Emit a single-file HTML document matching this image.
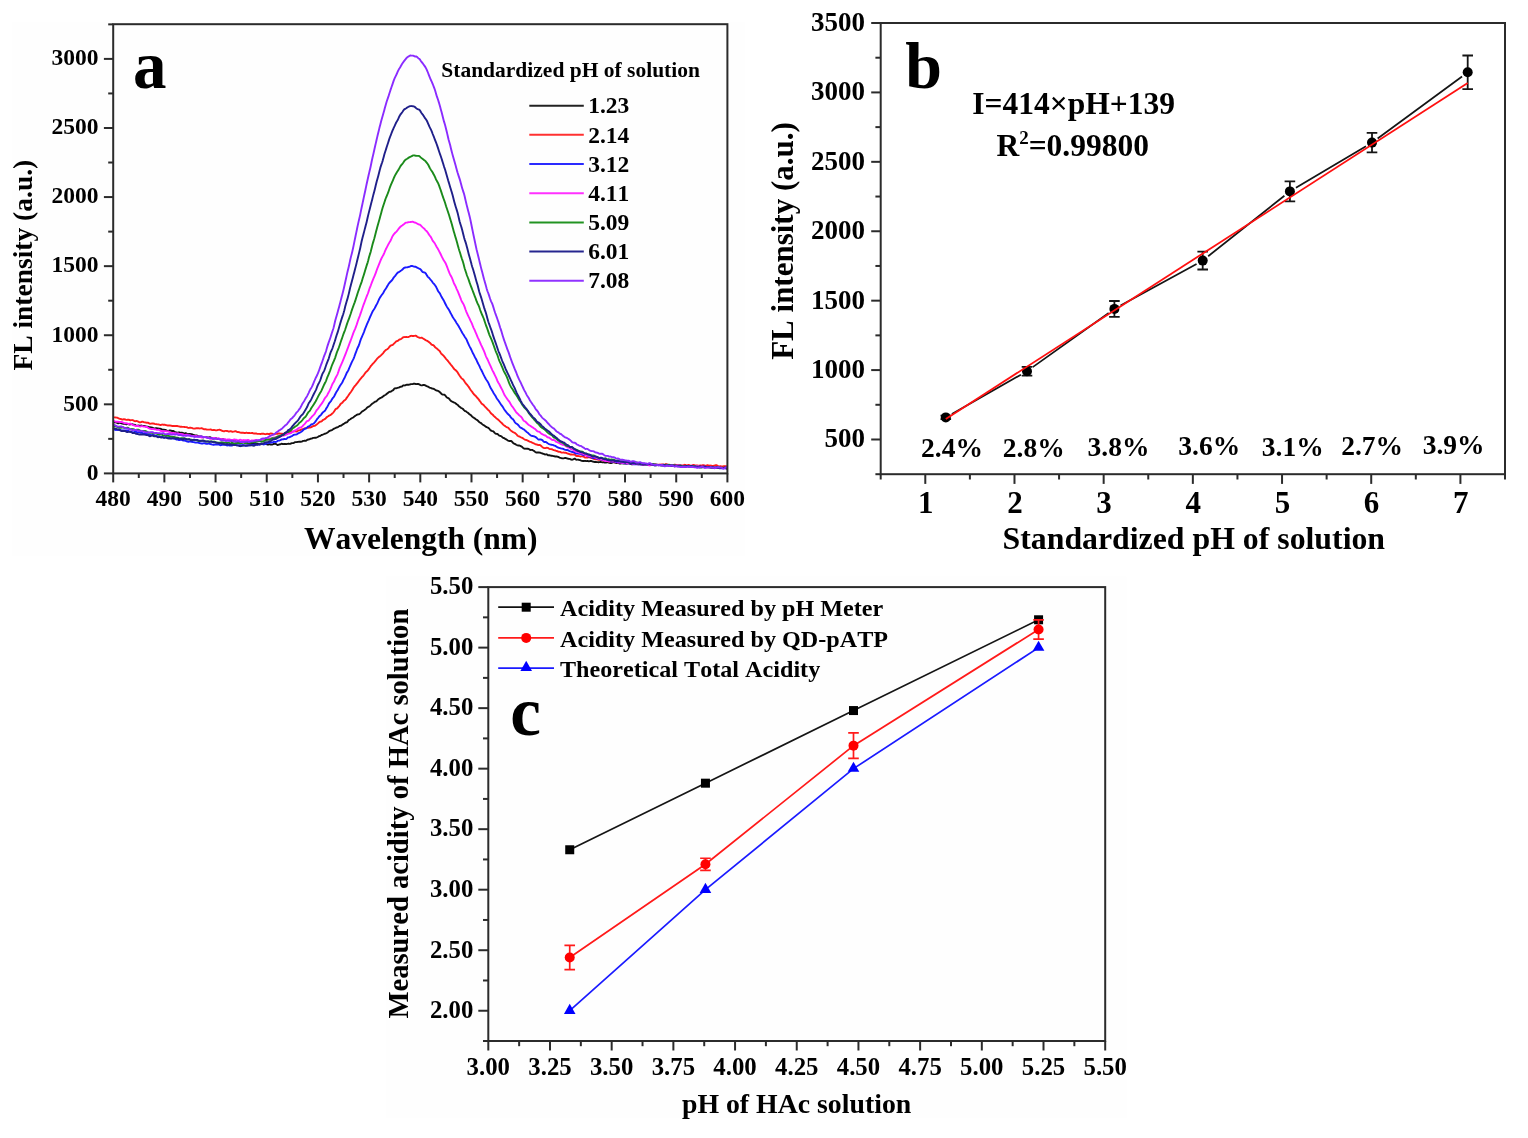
<!DOCTYPE html>
<html><head><meta charset="utf-8"><title>Figure</title>
<style>
html,body{margin:0;padding:0;background:#fff;width:1528px;height:1138px;overflow:hidden;}
svg{display:block;font-kerning:none;}
</style></head><body>
<svg width="1528" height="1138" viewBox="0 0 1528 1138">
<rect x="0" y="0" width="1528" height="1138" fill="#ffffff"/>
<rect x="12" y="22" width="733" height="533.5" fill="#fefefe"/>
<rect x="386" y="576.5" width="740.8" height="541.9" fill="#fefefe"/>
<g fill="none" stroke-width="1.9" stroke-linejoin="round">
<path d="M113.2,422.62 113.7,422.49 114.2,422.38 114.7,422.33 115.2,422.31 115.7,422.28 116.2,422.35 116.7,422.61 117.2,423.01 117.7,423.29 118.2,423.3 118.7,423.11 119.2,422.9 119.7,422.81 120.2,422.86 120.7,423.03 121.2,423.25 121.7,423.44 122.2,423.57 122.7,423.69 123.2,423.81 123.7,423.89 124.2,423.89 124.7,423.87 125.2,423.95 125.7,424.11 126.2,424.22 126.7,424.21 127.2,424.14 127.7,424.11 128.2,424.13 128.7,424.24 129.2,424.4 129.7,424.47 130.2,424.41 130.7,424.26 131.2,424.15 131.7,424.14 132.2,424.2 132.7,424.34 133.2,424.54 133.7,424.69 134.2,424.75 134.7,424.82 135.2,425.01 135.7,425.29 136.2,425.54 136.7,425.68 137.2,425.7 137.7,425.64 138.2,425.57 138.7,425.57 139.2,425.65 139.7,425.7 140.2,425.67 140.7,425.59 141.2,425.55 141.7,425.62 142.2,425.76 142.7,425.88 143.2,425.93 143.7,425.97 144.2,426.03 144.7,426.07 145.2,426.14 145.7,426.32 146.2,426.52 146.7,426.6 147.2,426.6 147.7,426.68 148.2,426.87 148.7,427.08 149.2,427.2 149.7,427.24 150.2,427.29 150.7,427.41 151.2,427.53 151.7,427.57 152.2,427.6 152.7,427.76 153.2,428.06 153.7,428.35 154.2,428.48 154.7,428.46 155.2,428.31 155.7,428.16 156.2,428.12 156.7,428.2 157.2,428.29 157.7,428.34 158.2,428.42 158.7,428.57 159.2,428.69 159.7,428.71 160.2,428.68 160.7,428.8 161.2,429.1 161.7,429.44 162.2,429.63 162.7,429.66 163.2,429.65 163.7,429.69 164.2,429.76 164.7,429.83 165.2,429.89 165.7,430.01 166.2,430.21 166.7,430.52 167.2,430.87 167.7,431.12 168.2,431.12 168.7,430.86 169.2,430.56 169.7,430.42 170.2,430.45 170.7,430.58 171.2,430.76 171.7,430.95 172.2,431.02 172.7,430.98 173.2,430.98 173.7,431.17 174.2,431.53 174.7,431.89 175.2,432.13 175.7,432.24 176.2,432.32 176.7,432.46 177.2,432.6 177.7,432.63 178.2,432.51 178.7,432.37 179.2,432.35 179.7,432.51 180.2,432.72 180.7,432.82 181.2,432.81 181.7,432.78 182.2,432.79 182.7,432.88 183.2,433.1 183.7,433.38 184.2,433.54 184.7,433.46 185.2,433.26 185.7,433.17 186.2,433.33 186.7,433.63 187.2,433.9 187.7,434.04 188.2,434.08 188.7,434.03 189.2,433.96 189.7,433.92 190.2,433.97 190.7,434.06 191.2,434.15 191.7,434.24 192.2,434.4 192.7,434.61 193.2,434.81 193.7,434.99 194.2,435.18 194.7,435.38 195.2,435.49 195.7,435.47 196.2,435.4 196.7,435.43 197.2,435.58 197.7,435.83 198.2,436.09 198.7,436.3 199.2,436.41 199.7,436.45 200.2,436.43 200.7,436.4 201.2,436.43 201.7,436.57 202.2,436.84 202.7,437.13 203.2,437.3 203.7,437.28 204.2,437.13 204.7,437 205.2,436.99 205.7,437.05 206.2,437.14 206.7,437.27 207.2,437.43 207.7,437.54 208.2,437.54 208.7,437.46 209.2,437.33 209.7,437.23 210.2,437.27 210.7,437.48 211.2,437.8 211.7,438.12 212.2,438.37 212.7,438.54 213.2,438.61 213.7,438.54 214.2,438.38 214.7,438.23 215.2,438.18 215.7,438.24 216.2,438.42 216.7,438.65 217.2,438.87 217.7,438.98 218.2,438.98 218.7,438.95 219.2,438.96 219.7,439.02 220.2,439.11 220.7,439.18 221.2,439.22 221.7,439.2 222.2,439.14 222.7,439.09 223.2,439.13 223.7,439.31 224.2,439.61 224.7,439.87 225.2,439.95 225.7,439.91 226.2,439.89 226.7,439.93 227.2,440 227.7,440.03 228.2,440.02 228.7,440.04 229.2,440.16 229.7,440.32 230.2,440.48 230.7,440.61 231.2,440.73 231.7,440.77 232.2,440.76 232.7,440.8 233.2,440.96 233.7,441.19 234.2,441.33 234.7,441.32 235.2,441.27 235.7,441.36 236.2,441.61 236.7,441.84 237.2,441.94 237.7,441.98 238.2,442.06 238.7,442.19 239.2,442.29 239.7,442.3 240.2,442.27 240.7,442.25 241.2,442.27 241.7,442.32 242.2,442.38 242.7,442.36 243.2,442.28 243.7,442.26 244.2,442.41 244.7,442.69 245.2,442.98 245.7,443.17 246.2,443.24 246.7,443.24 247.2,443.22 247.7,443.23 248.2,443.26 248.7,443.33 249.2,443.41 249.7,443.47 250.2,443.48 250.7,443.53 251.2,443.62 251.7,443.67 252.2,443.62 252.7,443.53 253.2,443.48 253.7,443.46 254.2,443.49 254.7,443.61 255.2,443.77 255.7,443.9 256.2,443.95 256.7,443.9 257.2,443.76 257.7,443.63 258.2,443.64 258.7,443.82 259.2,444.06 259.7,444.26 260.2,444.35 260.7,444.32 261.2,444.16 261.7,443.91 262.2,443.71 262.7,443.65 263.2,443.68 263.7,443.71 264.2,443.74 264.7,443.78 265.2,443.79 265.7,443.84 266.2,444.01 266.7,444.27 267.2,444.52 267.7,444.66 268.2,444.63 268.7,444.41 269.2,444.19 269.7,444.15 270.2,444.31 270.7,444.51 271.2,444.6 271.7,444.57 272.2,444.47 272.7,444.34 273.2,444.18 273.7,443.99 274.2,443.83 274.7,443.75 275.2,443.79 275.7,443.92 276.2,444.17 276.7,444.5 277.2,444.82 277.7,444.98 278.2,444.91 278.7,444.72 279.2,444.54 279.7,444.41 280.2,444.26 280.7,444.05 281.2,443.82 281.7,443.72 282.2,443.83 282.7,444.01 283.2,444.08 283.7,444.03 284.2,443.97 284.7,443.97 285.2,444.01 285.7,444.07 286.2,444.09 286.7,444.03 287.2,443.92 287.7,443.82 288.2,443.76 288.7,443.75 289.2,443.82 289.7,443.88 290.2,443.8 290.7,443.56 291.2,443.32 291.7,443.19 292.2,443.15 292.7,443.13 293.2,443.08 293.7,442.91 294.2,442.61 294.7,442.28 295.2,442.1 295.7,442.11 296.2,442.17 296.7,442.1 297.2,441.96 297.7,441.87 298.2,441.85 298.7,441.82 299.2,441.79 299.7,441.78 300.2,441.78 300.7,441.75 301.2,441.69 301.7,441.59 302.2,441.39 302.7,441.13 303.2,440.92 303.7,440.83 304.2,440.81 304.7,440.82 305.2,440.82 305.7,440.77 306.2,440.6 306.7,440.26 307.2,439.87 307.7,439.6 308.2,439.52 308.7,439.51 309.2,439.41 309.7,439.19 310.2,438.92 310.7,438.71 311.2,438.61 311.7,438.51 312.2,438.3 312.7,438.03 313.2,437.86 313.7,437.84 314.2,437.85 314.7,437.79 315.2,437.72 315.7,437.69 316.2,437.63 316.7,437.49 317.2,437.26 317.7,436.99 318.2,436.69 318.7,436.4 319.2,436.18 319.7,436.03 320.2,435.83 320.7,435.53 321.2,435.21 321.7,434.99 322.2,434.82 322.7,434.66 323.2,434.47 323.7,434.25 324.2,433.98 324.7,433.73 325.2,433.57 325.7,433.46 326.2,433.28 326.7,433 327.2,432.67 327.7,432.34 328.2,431.95 328.7,431.51 329.2,431.12 329.7,430.84 330.2,430.64 330.7,430.5 331.2,430.36 331.7,430.15 332.2,429.86 332.7,429.52 333.2,429.17 333.7,428.82 334.2,428.52 334.7,428.31 335.2,428.14 335.7,427.93 336.2,427.7 336.7,427.51 337.2,427.34 337.7,427.15 338.2,426.91 338.7,426.58 339.2,426.22 339.7,425.93 340.2,425.79 340.7,425.72 341.2,425.57 341.7,425.26 342.2,424.85 342.7,424.45 343.2,424.12 343.7,423.82 344.2,423.51 344.7,423.15 345.2,422.79 345.7,422.55 346.2,422.47 346.7,422.37 347.2,422.05 347.7,421.44 348.2,420.74 348.7,420.18 349.2,419.82 349.7,419.55 350.2,419.25 350.7,418.91 351.2,418.55 351.7,418.24 352.2,417.98 352.7,417.75 353.2,417.48 353.7,417.08 354.2,416.61 354.7,416.19 355.2,415.86 355.7,415.54 356.2,415.19 356.7,414.89 357.2,414.67 357.7,414.52 358.2,414.4 358.7,414.26 359.2,414.06 359.7,413.77 360.2,413.38 360.7,412.94 361.2,412.44 361.7,411.9 362.2,411.41 362.7,411.06 363.2,410.8 363.7,410.52 364.2,410.17 364.7,409.81 365.2,409.46 365.7,409.06 366.2,408.58 366.7,408.06 367.2,407.59 367.7,407.2 368.2,406.88 368.7,406.63 369.2,406.38 369.7,406.04 370.2,405.58 370.7,405.08 371.2,404.6 371.7,404.13 372.2,403.68 372.7,403.31 373.2,403.03 373.7,402.73 374.2,402.35 374.7,401.97 375.2,401.69 375.7,401.51 376.2,401.29 376.7,400.93 377.2,400.45 377.7,399.92 378.2,399.43 378.7,399.04 379.2,398.71 379.7,398.41 380.2,398.12 380.7,397.89 381.2,397.72 381.7,397.48 382.2,397.12 382.7,396.7 383.2,396.28 383.7,395.89 384.2,395.55 384.7,395.28 385.2,395.01 385.7,394.68 386.2,394.28 386.7,393.88 387.2,393.51 387.7,393.13 388.2,392.7 388.7,392.29 389.2,391.97 389.7,391.8 390.2,391.72 390.7,391.59 391.2,391.33 391.7,391.01 392.2,390.7 392.7,390.45 393.2,390.11 393.7,389.52 394.2,388.82 394.7,388.37 395.2,388.28 395.7,388.36 396.2,388.34 396.7,388.19 397.2,387.98 397.7,387.8 398.2,387.67 398.7,387.55 399.2,387.35 399.7,387.09 400.2,386.85 400.7,386.71 401.2,386.68 401.7,386.61 402.2,386.33 402.7,385.84 403.2,385.44 403.7,385.32 404.2,385.41 404.7,385.44 405.2,385.29 405.7,385.04 406.2,384.84 406.7,384.75 407.2,384.71 407.7,384.69 408.2,384.69 408.7,384.7 409.2,384.66 409.7,384.55 410.2,384.36 410.7,384.18 411.2,384.11 411.7,384.13 412.2,384.16 412.7,384.09 413.2,383.92 413.7,383.75 414.2,383.7 414.7,383.79 415.2,383.92 415.7,384.04 416.2,384.09 416.7,384.06 417.2,383.97 417.7,383.94 418.2,384.01 418.7,384.16 419.2,384.38 419.7,384.67 420.2,384.95 420.7,385.17 421.2,385.34 421.7,385.41 422.2,385.33 422.7,385.16 423.2,385.03 423.7,384.98 424.2,384.99 424.7,385.1 425.2,385.34 425.7,385.63 426.2,385.92 426.7,386.16 427.2,386.34 427.7,386.51 428.2,386.73 428.7,387.05 429.2,387.37 429.7,387.62 430.2,387.8 430.7,387.96 431.2,388.12 431.7,388.31 432.2,388.5 432.7,388.66 433.2,388.79 433.7,388.92 434.2,389.11 434.7,389.43 435.2,389.81 435.7,390.14 436.2,390.35 436.7,390.51 437.2,390.63 437.7,390.77 438.2,390.98 438.7,391.29 439.2,391.64 439.7,392.04 440.2,392.48 440.7,392.98 441.2,393.53 441.7,394.06 442.2,394.44 442.7,394.62 443.2,394.63 443.7,394.62 444.2,394.7 444.7,394.94 445.2,395.37 445.7,396.01 446.2,396.72 446.7,397.27 447.2,397.59 447.7,397.79 448.2,398.03 448.7,398.39 449.2,398.89 449.7,399.48 450.2,400.11 450.7,400.69 451.2,401.11 451.7,401.35 452.2,401.53 452.7,401.79 453.2,402.13 453.7,402.41 454.2,402.56 454.7,402.71 455.2,402.99 455.7,403.42 456.2,403.86 456.7,404.21 457.2,404.52 457.7,404.93 458.2,405.48 458.7,406.04 459.2,406.47 459.7,406.82 460.2,407.2 460.7,407.62 461.2,407.98 461.7,408.25 462.2,408.48 462.7,408.77 463.2,409.22 463.7,409.81 464.2,410.38 464.7,410.8 465.2,411.03 465.7,411.24 466.2,411.56 466.7,411.95 467.2,412.29 467.7,412.6 468.2,413.03 468.7,413.55 469.2,414.04 469.7,414.41 470.2,414.72 470.7,415.05 471.2,415.48 471.7,416.04 472.2,416.63 472.7,417.06 473.2,417.37 473.7,417.67 474.2,418.02 474.7,418.38 475.2,418.74 475.7,419.1 476.2,419.44 476.7,419.76 477.2,420.08 477.7,420.46 478.2,420.95 478.7,421.48 479.2,421.97 479.7,422.35 480.2,422.62 480.7,422.87 481.2,423.22 481.7,423.67 482.2,424.13 482.7,424.53 483.2,424.86 483.7,425.16 484.2,425.48 484.7,425.84 485.2,426.23 485.7,426.63 486.2,426.96 486.7,427.16 487.2,427.31 487.7,427.49 488.2,427.77 488.7,428.17 489.2,428.67 489.7,429.26 490.2,429.87 490.7,430.38 491.2,430.74 491.7,430.95 492.2,431.07 492.7,431.17 493.2,431.35 493.7,431.74 494.2,432.31 494.7,432.88 495.2,433.3 495.7,433.58 496.2,433.77 496.7,433.87 497.2,433.96 497.7,434.17 498.2,434.58 498.7,435.1 499.2,435.53 499.7,435.74 500.2,435.84 500.7,435.98 501.2,436.24 501.7,436.61 502.2,437.09 502.7,437.55 503.2,437.85 503.7,438 504.2,438.14 504.7,438.44 505.2,438.85 505.7,439.19 506.2,439.43 506.7,439.7 507.2,440.02 507.7,440.33 508.2,440.57 508.7,440.78 509.2,440.96 509.7,441.06 510.2,441.01 510.7,440.94 511.2,441.02 511.7,441.38 512.2,441.94 512.7,442.53 513.2,443.02 513.7,443.35 514.2,443.6 514.7,443.87 515.2,444.15 515.7,444.43 516.2,444.73 516.7,445.01 517.2,445.24 517.7,445.4 518.2,445.47 518.7,445.49 519.2,445.51 519.7,445.61 520.2,445.8 520.7,446.06 521.2,446.33 521.7,446.64 522.2,447.05 522.7,447.53 523.2,447.97 523.7,448.29 524.2,448.52 524.7,448.68 525.2,448.72 525.7,448.67 526.2,448.66 526.7,448.72 527.2,448.76 527.7,448.75 528.2,448.78 528.7,448.95 529.2,449.26 529.7,449.65 530.2,449.93 530.7,449.99 531.2,449.9 531.7,449.84 532.2,449.95 532.7,450.2 533.2,450.51 533.7,450.81 534.2,451.11 534.7,451.47 535.2,451.89 535.7,452.26 536.2,452.46 536.7,452.49 537.2,452.45 537.7,452.42 538.2,452.44 538.7,452.5 539.2,452.56 539.7,452.63 540.2,452.76 540.7,452.94 541.2,453.09 541.7,453.21 542.2,453.37 542.7,453.56 543.2,453.75 543.7,453.91 544.2,454.12 544.7,454.35 545.2,454.48 545.7,454.42 546.2,454.3 546.7,454.37 547.2,454.68 547.7,455.05 548.2,455.27 548.7,455.3 549.2,455.27 549.7,455.32 550.2,455.48 550.7,455.63 551.2,455.69 551.7,455.71 552.2,455.79 552.7,455.93 553.2,456.04 553.7,456.11 554.2,456.21 554.7,456.38 555.2,456.52 555.7,456.54 556.2,456.48 556.7,456.48 557.2,456.58 557.7,456.71 558.2,456.83 558.7,457.04 559.2,457.34 559.7,457.61 560.2,457.8 560.7,457.95 561.2,458.08 561.7,458.2 562.2,458.3 562.7,458.38 563.2,458.4 563.7,458.33 564.2,458.19 564.7,458.04 565.2,457.94 565.7,457.96 566.2,458.1 566.7,458.29 567.2,458.47 567.7,458.65 568.2,458.77 568.7,458.81 569.2,458.83 569.7,458.93 570.2,459.09 570.7,459.29 571.2,459.53 571.7,459.7 572.2,459.68 572.7,459.51 573.2,459.28 573.7,459.03 574.2,458.79 574.7,458.73 575.2,458.96 575.7,459.35 576.2,459.66 576.7,459.74 577.2,459.67 577.7,459.63 578.2,459.68 578.7,459.77 579.2,459.89 579.7,460.04 580.2,460.23 580.7,460.44 581.2,460.66 581.7,460.83 582.2,460.92 582.7,460.97 583.2,461.03 583.7,461.05 584.2,460.98 584.7,460.9 585.2,460.89 585.7,460.96 586.2,461.05 586.7,461.09 587.2,461.06 587.7,461.04 588.2,461.09 588.7,461.2 589.2,461.23 589.7,461.17 590.2,461.06 590.7,460.98 591.2,460.99 591.7,461.14 592.2,461.33 592.7,461.46 593.2,461.56 593.7,461.73 594.2,461.93 594.7,462.04 595.2,462.01 595.7,461.97 596.2,462.02 596.7,462.12 597.2,462.17 597.7,462.17 598.2,462.19 598.7,462.2 599.2,462.15 599.7,462.06 600.2,461.98 600.7,462 601.2,462.07 601.7,462.18 602.2,462.29 602.7,462.35 603.2,462.32 603.7,462.27 604.2,462.34 604.7,462.51 605.2,462.64 605.7,462.62 606.2,462.47 606.7,462.31 607.2,462.26 607.7,462.32 608.2,462.44 608.7,462.57 609.2,462.74 609.7,462.9 610.2,462.99 610.7,463.04 611.2,463.02 611.7,462.86 612.2,462.57 612.7,462.34 613.2,462.32 613.7,462.4 614.2,462.42 614.7,462.43 615.2,462.56 615.7,462.79 616.2,462.94 616.7,462.95 617.2,462.9 617.7,462.88 618.2,462.93 618.7,463.08 619.2,463.3 619.7,463.49 620.2,463.54 620.7,463.46 621.2,463.34 621.7,463.23 622.2,463.19 622.7,463.25 623.2,463.37 623.7,463.47 624.2,463.51 624.7,463.53 625.2,463.55 625.7,463.61 626.2,463.65 626.7,463.59 627.2,463.42 627.7,463.22 628.2,463.12 628.7,463.22 629.2,463.46 629.7,463.68 630.2,463.82 630.7,463.93 631.2,464.09 631.7,464.26 632.2,464.33 632.7,464.26 633.2,464.14 633.7,464.05 634.2,464.02 634.7,464.02 635.2,463.94 635.7,463.76 636.2,463.53 636.7,463.41 637.2,463.55 637.7,463.88 638.2,464.16 638.7,464.22 639.2,464.1 639.7,464.04 640.2,464.1 640.7,464.2 641.2,464.32 641.7,464.48 642.2,464.65 642.7,464.76 643.2,464.77 643.7,464.66 644.2,464.48 644.7,464.32 645.2,464.25 645.7,464.25 646.2,464.26 646.7,464.27 647.2,464.4 647.7,464.69 648.2,464.97 648.7,465.02 649.2,464.82 649.7,464.52 650.2,464.31 650.7,464.23 651.2,464.21 651.7,464.26 652.2,464.38 652.7,464.54 653.2,464.71 653.7,464.9 654.2,465.1 654.7,465.25 655.2,465.33 655.7,465.34 656.2,465.27 656.7,465.19 657.2,465.13 657.7,465.07 658.2,465 658.7,464.97 659.2,465.01 659.7,465.11 660.2,465.24 660.7,465.34 661.2,465.39 661.7,465.39 662.2,465.32 662.7,465.17 663.2,465.02 663.7,465 664.2,465.03 664.7,464.95 665.2,464.8 665.7,464.76 666.2,464.88 666.7,465.08 667.2,465.26 667.7,465.38 668.2,465.44 668.7,465.53 669.2,465.69 669.7,465.84 670.2,465.92 670.7,465.96 671.2,465.93 671.7,465.77 672.2,465.55 672.7,465.44 673.2,465.54 673.7,465.82 674.2,466.1 674.7,466.23 675.2,466.18 675.7,465.99 676.2,465.76 676.7,465.65 677.2,465.66 677.7,465.67 678.2,465.57 678.7,465.42 679.2,465.34 679.7,465.36 680.2,465.47 680.7,465.63 681.2,465.81 681.7,465.98 682.2,466.06 682.7,465.98 683.2,465.86 683.7,465.92 684.2,466.2 684.7,466.52 685.2,466.64 685.7,466.56 686.2,466.35 686.7,466.13 687.2,466.01 687.7,466.04 688.2,466.17 688.7,466.3 689.2,466.32 689.7,466.27 690.2,466.24 690.7,466.19 691.2,466.08 691.7,465.97 692.2,466.03 692.7,466.28 693.2,466.57 693.7,466.72 694.2,466.73 694.7,466.68 695.2,466.62 695.7,466.54 696.2,466.5 696.7,466.57 697.2,466.74 697.7,466.92 698.2,467.04 698.7,467.08 699.2,467.01 699.7,466.87 700.2,466.8 700.7,466.86 701.2,466.94 701.7,466.96 702.2,466.95 702.7,466.95 703.2,466.96 703.7,466.94 704.2,466.86 704.7,466.77 705.2,466.76 705.7,466.85 706.2,466.98 706.7,467.07 707.2,467.07 707.7,467.01 708.2,466.89 708.7,466.74 709.2,466.62 709.7,466.63 710.2,466.79 710.7,467.06 711.2,467.38 711.7,467.69 712.2,467.93 712.7,468.06 713.2,468.09 713.7,468.06 714.2,468.03 714.7,467.95 715.2,467.88 715.7,467.87 716.2,467.93 716.7,468 717.2,468.02 717.7,467.98 718.2,467.91 718.7,467.82 719.2,467.75 719.7,467.7 720.2,467.67 720.7,467.73 721.2,467.89 721.7,468.07 722.2,468.12 722.7,468.04 723.2,467.88 723.7,467.74 724.2,467.7 724.7,467.78 725.2,467.92 725.7,468.01 726.2,467.99 726.7,467.87 727.2,467.77" stroke="#111111"/>
<path d="M113.2,417.2 113.7,417.35 114.2,417.42 114.7,417.39 115.2,417.38 115.7,417.45 116.2,417.53 116.7,417.58 117.2,417.67 117.7,417.86 118.2,418.12 118.7,418.36 119.2,418.58 119.7,418.75 120.2,418.86 120.7,418.96 121.2,419.14 121.7,419.38 122.2,419.54 122.7,419.49 123.2,419.31 123.7,419.16 124.2,419.16 124.7,419.3 125.2,419.5 125.7,419.7 126.2,419.83 126.7,419.87 127.2,419.81 127.7,419.7 128.2,419.64 128.7,419.73 129.2,419.94 129.7,420.15 130.2,420.25 130.7,420.26 131.2,420.18 131.7,420.09 132.2,420.07 132.7,420.19 133.2,420.41 133.7,420.66 134.2,420.91 134.7,421.13 135.2,421.2 135.7,421.13 136.2,421.05 136.7,421.07 137.2,421.19 137.7,421.39 138.2,421.6 138.7,421.83 139.2,422.07 139.7,422.28 140.2,422.35 140.7,422.22 141.2,422 141.7,421.81 142.2,421.73 142.7,421.78 143.2,421.93 143.7,422.11 144.2,422.25 144.7,422.34 145.2,422.4 145.7,422.5 146.2,422.67 146.7,422.78 147.2,422.74 147.7,422.67 148.2,422.79 148.7,423.11 149.2,423.46 149.7,423.68 150.2,423.73 150.7,423.67 151.2,423.58 151.7,423.51 152.2,423.45 152.7,423.43 153.2,423.47 153.7,423.58 154.2,423.74 154.7,423.93 155.2,424.08 155.7,424.13 156.2,424.16 156.7,424.26 157.2,424.36 157.7,424.4 158.2,424.42 158.7,424.5 159.2,424.65 159.7,424.81 160.2,424.95 160.7,424.98 161.2,424.84 161.7,424.65 162.2,424.56 162.7,424.64 163.2,424.73 163.7,424.71 164.2,424.66 164.7,424.71 165.2,424.87 165.7,425.05 166.2,425.17 166.7,425.25 167.2,425.35 167.7,425.46 168.2,425.54 168.7,425.56 169.2,425.53 169.7,425.5 170.2,425.51 170.7,425.58 171.2,425.75 171.7,425.94 172.2,426.04 172.7,426.02 173.2,425.96 173.7,425.91 174.2,425.93 174.7,426.01 175.2,426.07 175.7,426.05 176.2,425.95 176.7,425.89 177.2,425.96 177.7,426.12 178.2,426.27 178.7,426.35 179.2,426.44 179.7,426.58 180.2,426.73 180.7,426.8 181.2,426.81 181.7,426.82 182.2,426.83 182.7,426.86 183.2,426.9 183.7,426.92 184.2,426.95 184.7,427 185.2,427.08 185.7,427.13 186.2,427.13 186.7,427.18 187.2,427.35 187.7,427.61 188.2,427.83 188.7,427.93 189.2,427.9 189.7,427.78 190.2,427.69 190.7,427.7 191.2,427.81 191.7,427.97 192.2,428.13 192.7,428.28 193.2,428.45 193.7,428.58 194.2,428.61 194.7,428.55 195.2,428.47 195.7,428.37 196.2,428.27 196.7,428.18 197.2,428.14 197.7,428.18 198.2,428.24 198.7,428.31 199.2,428.4 199.7,428.43 200.2,428.41 200.7,428.36 201.2,428.3 201.7,428.28 202.2,428.37 202.7,428.58 203.2,428.87 203.7,429.12 204.2,429.27 204.7,429.3 205.2,429.27 205.7,429.29 206.2,429.41 206.7,429.56 207.2,429.62 207.7,429.62 208.2,429.61 208.7,429.63 209.2,429.63 209.7,429.58 210.2,429.5 210.7,429.49 211.2,429.62 211.7,429.85 212.2,430.04 212.7,430.11 213.2,430.07 213.7,430.03 214.2,430.04 214.7,430.07 215.2,430.16 215.7,430.31 216.2,430.42 216.7,430.38 217.2,430.2 217.7,430.03 218.2,429.93 218.7,429.85 219.2,429.8 219.7,429.78 220.2,429.85 220.7,430.05 221.2,430.39 221.7,430.72 222.2,430.94 222.7,431.05 223.2,431.14 223.7,431.22 224.2,431.22 224.7,431.08 225.2,430.92 225.7,430.84 226.2,430.87 226.7,430.96 227.2,431.04 227.7,431.17 228.2,431.35 228.7,431.52 229.2,431.56 229.7,431.43 230.2,431.26 230.7,431.18 231.2,431.29 231.7,431.53 232.2,431.73 232.7,431.77 233.2,431.68 233.7,431.57 234.2,431.46 234.7,431.32 235.2,431.19 235.7,431.23 236.2,431.46 236.7,431.78 237.2,432 237.7,432.06 238.2,432.06 238.7,432.13 239.2,432.27 239.7,432.41 240.2,432.56 240.7,432.7 241.2,432.77 241.7,432.74 242.2,432.68 242.7,432.7 243.2,432.79 243.7,432.92 244.2,433.03 244.7,433.06 245.2,432.98 245.7,432.86 246.2,432.79 246.7,432.81 247.2,432.89 247.7,432.97 248.2,432.98 248.7,432.95 249.2,432.96 249.7,433.02 250.2,433.09 250.7,433.14 251.2,433.13 251.7,433.03 252.2,432.95 252.7,433.05 253.2,433.28 253.7,433.47 254.2,433.54 254.7,433.51 255.2,433.45 255.7,433.43 256.2,433.51 256.7,433.66 257.2,433.82 257.7,433.9 258.2,433.9 258.7,433.85 259.2,433.83 259.7,433.88 260.2,433.98 260.7,434.01 261.2,433.92 261.7,433.79 262.2,433.7 262.7,433.68 263.2,433.72 263.7,433.8 264.2,433.94 264.7,434.09 265.2,434.18 265.7,434.17 266.2,434.07 266.7,433.91 267.2,433.78 267.7,433.84 268.2,434.04 268.7,434.15 269.2,434.05 269.7,433.8 270.2,433.57 270.7,433.45 271.2,433.47 271.7,433.58 272.2,433.74 272.7,433.95 273.2,434.2 273.7,434.39 274.2,434.39 274.7,434.19 275.2,433.92 275.7,433.72 276.2,433.69 276.7,433.77 277.2,433.83 277.7,433.77 278.2,433.64 278.7,433.51 279.2,433.47 279.7,433.54 280.2,433.66 280.7,433.7 281.2,433.68 281.7,433.65 282.2,433.69 282.7,433.83 283.2,433.93 283.7,433.86 284.2,433.57 284.7,433.17 285.2,432.8 285.7,432.59 286.2,432.57 286.7,432.72 287.2,432.89 287.7,432.92 288.2,432.76 288.7,432.49 289.2,432.2 289.7,431.95 290.2,431.79 290.7,431.75 291.2,431.79 291.7,431.8 292.2,431.71 292.7,431.56 293.2,431.45 293.7,431.38 294.2,431.33 294.7,431.28 295.2,431.28 295.7,431.36 296.2,431.47 296.7,431.47 297.2,431.27 297.7,430.9 298.2,430.53 298.7,430.37 299.2,430.41 299.7,430.42 300.2,430.19 300.7,429.79 301.2,429.47 301.7,429.33 302.2,429.3 302.7,429.26 303.2,429.14 303.7,428.91 304.2,428.62 304.7,428.35 305.2,428.18 305.7,428.1 306.2,428.04 306.7,427.95 307.2,427.9 307.7,427.86 308.2,427.77 308.7,427.61 309.2,427.48 309.7,427.45 310.2,427.47 310.7,427.41 311.2,427.19 311.7,426.85 312.2,426.52 312.7,426.28 313.2,426.14 313.7,426.02 314.2,425.9 314.7,425.76 315.2,425.56 315.7,425.23 316.2,424.82 316.7,424.42 317.2,424.03 317.7,423.61 318.2,423.17 318.7,422.71 319.2,422.26 319.7,421.92 320.2,421.74 320.7,421.66 321.2,421.52 321.7,421.2 322.2,420.71 322.7,420.18 323.2,419.78 323.7,419.57 324.2,419.44 324.7,419.23 325.2,418.85 325.7,418.3 326.2,417.7 326.7,417.21 327.2,416.87 327.7,416.56 328.2,416.2 328.7,415.82 329.2,415.51 329.7,415.31 330.2,415.14 330.7,414.88 331.2,414.47 331.7,413.99 332.2,413.53 332.7,413.1 333.2,412.61 333.7,412.01 334.2,411.29 334.7,410.48 335.2,409.68 335.7,409.07 336.2,408.76 336.7,408.61 337.2,408.32 337.7,407.81 338.2,407.2 338.7,406.61 339.2,406.03 339.7,405.38 340.2,404.62 340.7,403.91 341.2,403.41 341.7,403.1 342.2,402.76 342.7,402.25 343.2,401.62 343.7,401.02 344.2,400.57 344.7,400.24 345.2,399.89 345.7,399.36 346.2,398.63 346.7,397.84 347.2,397.13 347.7,396.48 348.2,395.78 348.7,395.02 349.2,394.24 349.7,393.53 350.2,392.89 350.7,392.25 351.2,391.55 351.7,390.8 352.2,390.01 352.7,389.18 353.2,388.33 353.7,387.54 354.2,386.82 354.7,386.18 355.2,385.6 355.7,385.03 356.2,384.42 356.7,383.79 357.2,383.18 357.7,382.6 358.2,381.95 358.7,381.24 359.2,380.54 359.7,379.88 360.2,379.24 360.7,378.62 361.2,378.04 361.7,377.48 362.2,376.92 362.7,376.35 363.2,375.79 363.7,375.19 364.2,374.51 364.7,373.77 365.2,373.05 365.7,372.43 366.2,371.91 366.7,371.46 367.2,371.02 367.7,370.51 368.2,369.86 368.7,369.14 369.2,368.43 369.7,367.71 370.2,366.95 370.7,366.2 371.2,365.57 371.7,365.02 372.2,364.44 372.7,363.83 373.2,363.3 373.7,362.83 374.2,362.29 374.7,361.68 375.2,361.09 375.7,360.52 376.2,359.91 376.7,359.25 377.2,358.64 377.7,358.1 378.2,357.63 378.7,357.18 379.2,356.75 379.7,356.39 380.2,356.04 380.7,355.62 381.2,355.12 381.7,354.6 382.2,354.09 382.7,353.58 383.2,353.01 383.7,352.34 384.2,351.65 384.7,351.05 385.2,350.55 385.7,350.14 386.2,349.79 386.7,349.51 387.2,349.23 387.7,348.88 388.2,348.39 388.7,347.79 389.2,347.14 389.7,346.54 390.2,346.06 390.7,345.66 391.2,345.34 391.7,345.18 392.2,345.11 392.7,344.91 393.2,344.45 393.7,343.88 394.2,343.39 394.7,342.93 395.2,342.42 395.7,341.86 396.2,341.4 396.7,341.13 397.2,341.04 397.7,340.92 398.2,340.58 398.7,340.09 399.2,339.69 399.7,339.46 400.2,339.29 400.7,339.07 401.2,338.8 401.7,338.47 402.2,338.07 402.7,337.64 403.2,337.28 403.7,337.1 404.2,337.07 404.7,337.09 405.2,337.09 405.7,337.04 406.2,337 406.7,337.04 407.2,337.11 407.7,337.11 408.2,336.98 408.7,336.82 409.2,336.66 409.7,336.47 410.2,336.22 410.7,335.96 411.2,335.82 411.7,335.84 412.2,335.95 412.7,336.02 413.2,335.98 413.7,335.93 414.2,335.9 414.7,335.84 415.2,335.78 415.7,335.76 416.2,335.9 416.7,336.23 417.2,336.68 417.7,337.04 418.2,337.23 418.7,337.35 419.2,337.55 419.7,337.8 420.2,337.92 420.7,337.87 421.2,337.75 421.7,337.75 422.2,337.94 422.7,338.25 423.2,338.58 423.7,338.86 424.2,339.11 424.7,339.44 425.2,339.87 425.7,340.25 426.2,340.47 426.7,340.61 427.2,340.81 427.7,341.14 428.2,341.51 428.7,341.87 429.2,342.24 429.7,342.63 430.2,343.08 430.7,343.65 431.2,344.26 431.7,344.73 432.2,344.94 432.7,345.01 433.2,345.15 433.7,345.48 434.2,346.02 434.7,346.67 435.2,347.27 435.7,347.7 436.2,348.02 436.7,348.37 437.2,348.83 437.7,349.31 438.2,349.75 438.7,350.15 439.2,350.59 439.7,351.15 440.2,351.89 440.7,352.74 441.2,353.52 441.7,354.09 442.2,354.49 442.7,354.9 443.2,355.42 443.7,355.96 444.2,356.48 444.7,357.09 445.2,357.8 445.7,358.49 446.2,359.06 446.7,359.57 447.2,360.09 447.7,360.67 448.2,361.3 448.7,361.96 449.2,362.61 449.7,363.22 450.2,363.85 450.7,364.49 451.2,365.11 451.7,365.69 452.2,366.3 452.7,366.96 453.2,367.67 453.7,368.41 454.2,369.05 454.7,369.5 455.2,369.84 455.7,370.24 456.2,370.72 456.7,371.25 457.2,371.85 457.7,372.57 458.2,373.38 458.7,374.21 459.2,375 459.7,375.74 460.2,376.44 460.7,377.13 461.2,377.81 461.7,378.38 462.2,378.81 462.7,379.15 463.2,379.58 463.7,380.19 464.2,380.96 464.7,381.81 465.2,382.6 465.7,383.24 466.2,383.78 466.7,384.32 467.2,384.93 467.7,385.56 468.2,386.21 468.7,386.89 469.2,387.62 469.7,388.4 470.2,389.2 470.7,389.97 471.2,390.65 471.7,391.26 472.2,391.91 472.7,392.63 473.2,393.35 473.7,393.98 474.2,394.52 474.7,395.02 475.2,395.48 475.7,395.94 476.2,396.49 476.7,397.11 477.2,397.73 477.7,398.27 478.2,398.79 478.7,399.4 479.2,400.14 479.7,400.89 480.2,401.55 480.7,402.2 481.2,402.96 481.7,403.7 482.2,404.2 482.7,404.47 483.2,404.72 483.7,405.13 484.2,405.7 484.7,406.29 485.2,406.83 485.7,407.35 486.2,407.87 486.7,408.42 487.2,409.01 487.7,409.54 488.2,409.98 488.7,410.36 489.2,410.83 489.7,411.5 490.2,412.29 490.7,413.02 491.2,413.54 491.7,413.91 492.2,414.27 492.7,414.71 493.2,415.26 493.7,415.82 494.2,416.31 494.7,416.74 495.2,417.17 495.7,417.65 496.2,418.15 496.7,418.56 497.2,418.91 497.7,419.28 498.2,419.71 498.7,420.18 499.2,420.68 499.7,421.18 500.2,421.64 500.7,422.11 501.2,422.58 501.7,423.03 502.2,423.49 502.7,424.03 503.2,424.6 503.7,425.07 504.2,425.43 504.7,425.77 505.2,426.13 505.7,426.48 506.2,426.8 506.7,427.07 507.2,427.28 507.7,427.47 508.2,427.78 508.7,428.27 509.2,428.85 509.7,429.43 510.2,429.95 510.7,430.4 511.2,430.8 511.7,431.16 512.2,431.52 512.7,431.87 513.2,432.16 513.7,432.38 514.2,432.57 514.7,432.82 515.2,433.18 515.7,433.64 516.2,434.13 516.7,434.66 517.2,435.22 517.7,435.73 518.2,436.07 518.7,436.28 519.2,436.46 519.7,436.71 520.2,436.98 520.7,437.25 521.2,437.49 521.7,437.68 522.2,437.87 522.7,438.11 523.2,438.44 523.7,438.83 524.2,439.2 524.7,439.51 525.2,439.72 525.7,439.85 526.2,439.95 526.7,440.1 527.2,440.32 527.7,440.56 528.2,440.82 528.7,441.09 529.2,441.36 529.7,441.61 530.2,441.81 530.7,441.97 531.2,442.14 531.7,442.38 532.2,442.65 532.7,442.88 533.2,443.06 533.7,443.25 534.2,443.49 534.7,443.78 535.2,444.06 535.7,444.26 536.2,444.37 536.7,444.5 537.2,444.7 537.7,444.92 538.2,445.05 538.7,445.04 539.2,444.95 539.7,444.98 540.2,445.2 540.7,445.55 541.2,445.97 541.7,446.42 542.2,446.87 542.7,447.29 543.2,447.64 543.7,447.89 544.2,448.05 544.7,448.13 545.2,448.11 545.7,448 546.2,447.85 546.7,447.77 547.2,447.82 547.7,447.96 548.2,448.16 548.7,448.43 549.2,448.75 549.7,449 550.2,449.12 550.7,449.13 551.2,449.13 551.7,449.22 552.2,449.42 552.7,449.64 553.2,449.84 553.7,450.04 554.2,450.2 554.7,450.31 555.2,450.45 555.7,450.65 556.2,450.83 556.7,450.97 557.2,451.15 557.7,451.41 558.2,451.66 558.7,451.79 559.2,451.81 559.7,451.83 560.2,451.95 560.7,452.2 561.2,452.49 561.7,452.67 562.2,452.67 562.7,452.57 563.2,452.51 563.7,452.56 564.2,452.68 564.7,452.77 565.2,452.79 565.7,452.8 566.2,452.9 566.7,453.12 567.2,453.42 567.7,453.66 568.2,453.76 568.7,453.81 569.2,453.98 569.7,454.25 570.2,454.46 570.7,454.5 571.2,454.47 571.7,454.5 572.2,454.6 572.7,454.65 573.2,454.54 573.7,454.34 574.2,454.27 574.7,454.49 575.2,454.97 575.7,455.51 576.2,455.87 576.7,455.97 577.2,455.93 577.7,455.93 578.2,456 578.7,456.08 579.2,456.16 579.7,456.3 580.2,456.44 580.7,456.49 581.2,456.43 581.7,456.33 582.2,456.28 582.7,456.32 583.2,456.47 583.7,456.73 584.2,457.06 584.7,457.38 585.2,457.59 585.7,457.65 586.2,457.59 586.7,457.55 587.2,457.55 587.7,457.51 588.2,457.39 588.7,457.28 589.2,457.3 589.7,457.44 590.2,457.63 590.7,457.81 591.2,457.95 591.7,458.05 592.2,458.16 592.7,458.32 593.2,458.54 593.7,458.79 594.2,458.98 594.7,459.11 595.2,459.21 595.7,459.28 596.2,459.28 596.7,459.25 597.2,459.31 597.7,459.5 598.2,459.71 598.7,459.84 599.2,459.87 599.7,459.87 600.2,459.84 600.7,459.86 601.2,459.92 601.7,460.02 602.2,460.16 602.7,460.37 603.2,460.56 603.7,460.58 604.2,460.37 604.7,460.1 605.2,459.98 605.7,460.11 606.2,460.39 606.7,460.63 607.2,460.82 607.7,461.09 608.2,461.41 608.7,461.65 609.2,461.73 609.7,461.72 610.2,461.69 610.7,461.7 611.2,461.75 611.7,461.78 612.2,461.75 612.7,461.73 613.2,461.81 613.7,462.01 614.2,462.22 614.7,462.25 615.2,462.12 615.7,461.97 616.2,461.93 616.7,462.05 617.2,462.33 617.7,462.69 618.2,462.98 618.7,463.12 619.2,463.13 619.7,463.11 620.2,463.13 620.7,463.15 621.2,463.11 621.7,463.06 622.2,463.08 622.7,463.14 623.2,463.14 623.7,463.06 624.2,463.01 624.7,463.05 625.2,463.14 625.7,463.18 626.2,463.15 626.7,463.12 627.2,463.14 627.7,463.2 628.2,463.23 628.7,463.12 629.2,462.88 629.7,462.64 630.2,462.58 630.7,462.7 631.2,462.92 631.7,463.15 632.2,463.32 632.7,463.39 633.2,463.4 633.7,463.47 634.2,463.61 634.7,463.74 635.2,463.79 635.7,463.82 636.2,463.9 636.7,464.04 637.2,464.16 637.7,464.21 638.2,464.19 638.7,464.06 639.2,463.93 639.7,463.88 640.2,463.9 640.7,463.87 641.2,463.79 641.7,463.76 642.2,463.81 642.7,463.95 643.2,464.15 643.7,464.37 644.2,464.5 644.7,464.43 645.2,464.22 645.7,464 646.2,463.91 646.7,463.96 647.2,464.08 647.7,464.16 648.2,464.15 648.7,464.12 649.2,464.11 649.7,464.14 650.2,464.17 650.7,464.2 651.2,464.17 651.7,464.08 652.2,464.06 652.7,464.18 653.2,464.4 653.7,464.62 654.2,464.7 654.7,464.6 655.2,464.45 655.7,464.44 656.2,464.58 656.7,464.79 657.2,464.91 657.7,464.9 658.2,464.81 658.7,464.74 659.2,464.71 659.7,464.71 660.2,464.73 660.7,464.73 661.2,464.64 661.7,464.5 662.2,464.44 662.7,464.48 663.2,464.59 663.7,464.67 664.2,464.67 664.7,464.56 665.2,464.4 665.7,464.28 666.2,464.24 666.7,464.3 667.2,464.43 667.7,464.57 668.2,464.75 668.7,464.94 669.2,465.05 669.7,465.04 670.2,464.99 670.7,464.99 671.2,465.12 671.7,465.32 672.2,465.43 672.7,465.36 673.2,465.16 673.7,464.95 674.2,464.79 674.7,464.74 675.2,464.79 675.7,464.87 676.2,464.96 676.7,465.09 677.2,465.27 677.7,465.38 678.2,465.42 678.7,465.45 679.2,465.5 679.7,465.53 680.2,465.49 680.7,465.43 681.2,465.4 681.7,465.42 682.2,465.47 682.7,465.51 683.2,465.45 683.7,465.25 684.2,464.96 684.7,464.78 685.2,464.85 685.7,465.13 686.2,465.43 686.7,465.54 687.2,465.42 687.7,465.2 688.2,465.04 688.7,465.01 689.2,465.07 689.7,465.25 690.2,465.55 690.7,465.78 691.2,465.79 691.7,465.57 692.2,465.31 692.7,465.08 693.2,464.95 693.7,464.95 694.2,465.12 694.7,465.38 695.2,465.56 695.7,465.56 696.2,465.44 696.7,465.37 697.2,465.47 697.7,465.65 698.2,465.77 698.7,465.77 699.2,465.67 699.7,465.56 700.2,465.52 700.7,465.54 701.2,465.57 701.7,465.51 702.2,465.37 702.7,465.24 703.2,465.2 703.7,465.25 704.2,465.39 704.7,465.61 705.2,465.78 705.7,465.75 706.2,465.58 706.7,465.42 707.2,465.31 707.7,465.27 708.2,465.35 708.7,465.48 709.2,465.57 709.7,465.58 710.2,465.57 710.7,465.61 711.2,465.69 711.7,465.78 712.2,465.87 712.7,465.93 713.2,465.91 713.7,465.8 714.2,465.65 714.7,465.49 715.2,465.3 715.7,465.14 716.2,465.11 716.7,465.26 717.2,465.54 717.7,465.89 718.2,466.25 718.7,466.5 719.2,466.51 719.7,466.36 720.2,466.24 720.7,466.26 721.2,466.35 721.7,466.47 722.2,466.52 722.7,466.46 723.2,466.3 723.7,466.13 724.2,466.07 724.7,466.15 725.2,466.26 725.7,466.29 726.2,466.28 726.7,466.36 727.2,466.46" stroke="#ff1a1a"/>
<path d="M113.2,429.2 113.7,429.24 114.2,429.35 114.7,429.54 115.2,429.77 115.7,429.94 116.2,429.98 116.7,429.91 117.2,429.88 117.7,429.94 118.2,429.99 118.7,429.93 119.2,429.82 119.7,429.78 120.2,429.9 120.7,430.14 121.2,430.4 121.7,430.54 122.2,430.54 122.7,430.46 123.2,430.42 123.7,430.46 124.2,430.52 124.7,430.54 125.2,430.55 125.7,430.57 126.2,430.57 126.7,430.53 127.2,430.52 127.7,430.63 128.2,430.86 128.7,431.14 129.2,431.37 129.7,431.52 130.2,431.62 130.7,431.66 131.2,431.72 131.7,431.88 132.2,432.15 132.7,432.36 133.2,432.36 133.7,432.21 134.2,432.03 134.7,431.88 135.2,431.77 135.7,431.75 136.2,431.86 136.7,432.07 137.2,432.26 137.7,432.33 138.2,432.31 138.7,432.22 139.2,432.17 139.7,432.32 140.2,432.61 140.7,432.85 141.2,432.91 141.7,432.9 142.2,432.98 142.7,433.16 143.2,433.33 143.7,433.39 144.2,433.3 144.7,433.19 145.2,433.19 145.7,433.33 146.2,433.56 146.7,433.8 147.2,434 147.7,434.14 148.2,434.28 148.7,434.4 149.2,434.49 149.7,434.6 150.2,434.8 150.7,435.08 151.2,435.28 151.7,435.29 152.2,435.16 152.7,435.04 153.2,435.04 153.7,435.17 154.2,435.39 154.7,435.64 155.2,435.85 155.7,435.96 156.2,436.02 156.7,436.07 157.2,436.12 157.7,436.19 158.2,436.32 158.7,436.51 159.2,436.71 159.7,436.93 160.2,437.12 160.7,437.16 161.2,437.03 161.7,436.89 162.2,436.92 162.7,437.13 163.2,437.42 163.7,437.65 164.2,437.71 164.7,437.56 165.2,437.31 165.7,437.19 166.2,437.3 166.7,437.51 167.2,437.63 167.7,437.61 168.2,437.6 168.7,437.71 169.2,437.88 169.7,438.03 170.2,438.18 170.7,438.35 171.2,438.43 171.7,438.38 172.2,438.29 172.7,438.32 173.2,438.44 173.7,438.57 174.2,438.65 174.7,438.74 175.2,438.89 175.7,439.12 176.2,439.39 176.7,439.62 177.2,439.67 177.7,439.65 178.2,439.76 178.7,440.01 179.2,440.16 179.7,440.06 180.2,439.81 180.7,439.69 181.2,439.78 181.7,439.98 182.2,440.19 182.7,440.38 183.2,440.51 183.7,440.55 184.2,440.55 184.7,440.62 185.2,440.77 185.7,440.97 186.2,441.17 186.7,441.34 187.2,441.49 187.7,441.64 188.2,441.76 188.7,441.77 189.2,441.68 189.7,441.59 190.2,441.59 190.7,441.66 191.2,441.76 191.7,441.84 192.2,441.9 192.7,441.99 193.2,442.09 193.7,442.16 194.2,442.24 194.7,442.34 195.2,442.45 195.7,442.55 196.2,442.59 196.7,442.51 197.2,442.39 197.7,442.39 198.2,442.55 198.7,442.78 199.2,442.98 199.7,443.14 200.2,443.25 200.7,443.36 201.2,443.43 201.7,443.44 202.2,443.43 202.7,443.45 203.2,443.4 203.7,443.27 204.2,443.15 204.7,443.17 205.2,443.39 205.7,443.67 206.2,443.85 206.7,443.88 207.2,443.81 207.7,443.71 208.2,443.64 208.7,443.67 209.2,443.78 209.7,443.91 210.2,443.99 210.7,444.08 211.2,444.25 211.7,444.46 212.2,444.6 212.7,444.68 213.2,444.75 213.7,444.77 214.2,444.69 214.7,444.58 215.2,444.51 215.7,444.47 216.2,444.45 216.7,444.46 217.2,444.52 217.7,444.57 218.2,444.56 218.7,444.56 219.2,444.65 219.7,444.86 220.2,445.1 220.7,445.23 221.2,445.16 221.7,444.92 222.2,444.71 222.7,444.68 223.2,444.77 223.7,444.83 224.2,444.77 224.7,444.67 225.2,444.68 225.7,444.89 226.2,445.2 226.7,445.43 227.2,445.49 227.7,445.42 228.2,445.31 228.7,445.28 229.2,445.37 229.7,445.5 230.2,445.59 230.7,445.65 231.2,445.67 231.7,445.64 232.2,445.51 232.7,445.26 233.2,444.94 233.7,444.71 234.2,444.68 234.7,444.79 235.2,444.91 235.7,445 236.2,445.11 236.7,445.22 237.2,445.3 237.7,445.38 238.2,445.41 238.7,445.35 239.2,445.24 239.7,445.18 240.2,445.21 240.7,445.27 241.2,445.27 241.7,445.2 242.2,445.12 242.7,445.06 243.2,445.1 243.7,445.25 244.2,445.45 244.7,445.62 245.2,445.72 245.7,445.75 246.2,445.74 246.7,445.68 247.2,445.54 247.7,445.33 248.2,445.18 248.7,445.16 249.2,445.22 249.7,445.27 250.2,445.23 250.7,445.1 251.2,444.94 251.7,444.79 252.2,444.68 252.7,444.63 253.2,444.64 253.7,444.65 254.2,444.6 254.7,444.51 255.2,444.42 255.7,444.44 256.2,444.61 256.7,444.84 257.2,444.93 257.7,444.83 258.2,444.67 258.7,444.6 259.2,444.6 259.7,444.48 260.2,444.18 260.7,443.87 261.2,443.71 261.7,443.74 262.2,443.9 262.7,444.15 263.2,444.4 263.7,444.46 264.2,444.28 264.7,444.03 265.2,443.88 265.7,443.82 266.2,443.68 266.7,443.36 267.2,442.98 267.7,442.74 268.2,442.71 268.7,442.77 269.2,442.75 269.7,442.62 270.2,442.47 270.7,442.41 271.2,442.45 271.7,442.51 272.2,442.46 272.7,442.3 273.2,442.08 273.7,441.88 274.2,441.81 274.7,441.87 275.2,441.97 275.7,441.96 276.2,441.82 276.7,441.55 277.2,441.21 277.7,440.88 278.2,440.68 278.7,440.62 279.2,440.59 279.7,440.47 280.2,440.25 280.7,439.95 281.2,439.67 281.7,439.46 282.2,439.38 282.7,439.36 283.2,439.26 283.7,439.05 284.2,438.89 284.7,438.93 285.2,439.07 285.7,439.13 286.2,439.01 286.7,438.68 287.2,438.17 287.7,437.67 288.2,437.4 288.7,437.33 289.2,437.27 289.7,437.1 290.2,436.85 290.7,436.61 291.2,436.39 291.7,436.16 292.2,435.86 292.7,435.52 293.2,435.19 293.7,434.92 294.2,434.75 294.7,434.66 295.2,434.61 295.7,434.56 296.2,434.47 296.7,434.31 297.2,434.02 297.7,433.65 298.2,433.3 298.7,433.03 299.2,432.82 299.7,432.62 300.2,432.39 300.7,432.11 301.2,431.81 301.7,431.48 302.2,431.04 302.7,430.52 303.2,429.98 303.7,429.51 304.2,429.14 304.7,428.89 305.2,428.75 305.7,428.61 306.2,428.34 306.7,427.89 307.2,427.36 307.7,426.88 308.2,426.56 308.7,426.39 309.2,426.24 309.7,425.94 310.2,425.45 310.7,424.88 311.2,424.48 311.7,424.31 312.2,424.23 312.7,424.04 313.2,423.76 313.7,423.42 314.2,423 314.7,422.46 315.2,421.85 315.7,421.17 316.2,420.43 316.7,419.67 317.2,418.96 317.7,418.35 318.2,417.77 318.7,417.15 319.2,416.52 319.7,415.99 320.2,415.57 320.7,415.15 321.2,414.57 321.7,413.85 322.2,413.14 322.7,412.57 323.2,412.12 323.7,411.72 324.2,411.34 324.7,410.91 325.2,410.29 325.7,409.48 326.2,408.58 326.7,407.72 327.2,406.91 327.7,406.05 328.2,405.07 328.7,404.06 329.2,403.19 329.7,402.53 330.2,402 330.7,401.41 331.2,400.65 331.7,399.76 332.2,398.9 332.7,398.17 333.2,397.59 333.7,397.01 334.2,396.26 334.7,395.3 335.2,394.24 335.7,393.25 336.2,392.35 336.7,391.51 337.2,390.72 337.7,389.95 338.2,389.09 338.7,388.14 339.2,387.18 339.7,386.32 340.2,385.52 340.7,384.76 341.2,384.04 341.7,383.34 342.2,382.51 342.7,381.51 343.2,380.43 343.7,379.42 344.2,378.48 344.7,377.51 345.2,376.43 345.7,375.26 346.2,374.07 346.7,372.98 347.2,372.1 347.7,371.35 348.2,370.5 348.7,369.42 349.2,368.2 349.7,366.99 350.2,365.83 350.7,364.67 351.2,363.51 351.7,362.43 352.2,361.42 352.7,360.44 353.2,359.42 353.7,358.3 354.2,357.03 354.7,355.62 355.2,354.2 355.7,352.88 356.2,351.61 356.7,350.26 357.2,348.9 357.7,347.75 358.2,346.8 358.7,345.78 359.2,344.45 359.7,342.84 360.2,341.17 360.7,339.69 361.2,338.47 361.7,337.37 362.2,336.21 362.7,334.99 363.2,333.81 363.7,332.63 364.2,331.34 364.7,329.94 365.2,328.54 365.7,327.26 366.2,326.07 366.7,324.9 367.2,323.69 367.7,322.53 368.2,321.41 368.7,320.27 369.2,319.04 369.7,317.83 370.2,316.74 370.7,315.68 371.2,314.57 371.7,313.41 372.2,312.3 372.7,311.35 373.2,310.56 373.7,309.83 374.2,309.06 374.7,308.18 375.2,307.21 375.7,306.21 376.2,305.26 376.7,304.39 377.2,303.5 377.7,302.45 378.2,301.25 378.7,300.06 379.2,299.03 379.7,298.13 380.2,297.27 380.7,296.44 381.2,295.7 381.7,295.04 382.2,294.39 382.7,293.73 383.2,292.97 383.7,292.05 384.2,291.07 384.7,290.23 385.2,289.55 385.7,288.86 386.2,288.08 386.7,287.22 387.2,286.34 387.7,285.48 388.2,284.63 388.7,283.81 389.2,283.09 389.7,282.52 390.2,282.02 390.7,281.51 391.2,281.03 391.7,280.54 392.2,279.92 392.7,279.14 393.2,278.33 393.7,277.61 394.2,276.98 394.7,276.39 395.2,275.81 395.7,275.18 396.2,274.48 396.7,273.79 397.2,273.22 397.7,272.75 398.2,272.34 398.7,272.04 399.2,271.82 399.7,271.54 400.2,271.15 400.7,270.79 401.2,270.48 401.7,270.13 402.2,269.7 402.7,269.22 403.2,268.74 403.7,268.26 404.2,267.84 404.7,267.56 405.2,267.46 405.7,267.44 406.2,267.4 406.7,267.33 407.2,267.27 407.7,267.19 408.2,267.08 408.7,266.93 409.2,266.77 409.7,266.58 410.2,266.36 410.7,266.13 411.2,265.97 411.7,265.95 412.2,266.02 412.7,266.12 413.2,266.28 413.7,266.5 414.2,266.66 414.7,266.68 415.2,266.67 415.7,266.78 416.2,267.05 416.7,267.4 417.2,267.71 417.7,267.95 418.2,268.17 418.7,268.38 419.2,268.57 419.7,268.78 420.2,269.09 420.7,269.54 421.2,270.14 421.7,270.87 422.2,271.57 422.7,272.04 423.2,272.24 423.7,272.3 424.2,272.37 424.7,272.55 425.2,272.86 425.7,273.37 426.2,274.12 426.7,275.02 427.2,275.9 427.7,276.62 428.2,277.15 428.7,277.56 429.2,278 429.7,278.59 430.2,279.26 430.7,279.87 431.2,280.41 431.7,281.01 432.2,281.74 432.7,282.5 433.2,283.15 433.7,283.69 434.2,284.21 434.7,284.8 435.2,285.46 435.7,286.22 436.2,287.09 436.7,288.08 437.2,289.18 437.7,290.3 438.2,291.27 438.7,291.98 439.2,292.54 439.7,293.19 440.2,294.08 440.7,295.15 441.2,296.18 441.7,297.07 442.2,297.92 442.7,298.75 443.2,299.55 443.7,300.43 444.2,301.43 444.7,302.49 445.2,303.5 445.7,304.49 446.2,305.47 446.7,306.38 447.2,307.2 447.7,307.96 448.2,308.7 448.7,309.48 449.2,310.33 449.7,311.27 450.2,312.27 450.7,313.24 451.2,314.15 451.7,315.07 452.2,316.05 452.7,317 453.2,317.83 453.7,318.56 454.2,319.24 454.7,319.92 455.2,320.66 455.7,321.5 456.2,322.39 456.7,323.22 457.2,323.95 457.7,324.65 458.2,325.42 458.7,326.28 459.2,327.2 459.7,328.12 460.2,329.01 460.7,329.9 461.2,330.85 461.7,331.82 462.2,332.73 462.7,333.51 463.2,334.22 463.7,334.98 464.2,335.88 464.7,336.76 465.2,337.51 465.7,338.16 466.2,338.92 466.7,339.89 467.2,341.04 467.7,342.27 468.2,343.45 468.7,344.57 469.2,345.63 469.7,346.62 470.2,347.55 470.7,348.46 471.2,349.45 471.7,350.55 472.2,351.68 472.7,352.74 473.2,353.71 473.7,354.68 474.2,355.71 474.7,356.73 475.2,357.65 475.7,358.51 476.2,359.44 476.7,360.51 477.2,361.68 477.7,362.81 478.2,363.78 478.7,364.65 479.2,365.6 479.7,366.69 480.2,367.82 480.7,368.85 481.2,369.77 481.7,370.71 482.2,371.72 482.7,372.79 483.2,373.89 483.7,374.94 484.2,375.92 484.7,376.87 485.2,377.82 485.7,378.72 486.2,379.56 486.7,380.3 487.2,381 487.7,381.75 488.2,382.64 488.7,383.67 489.2,384.8 489.7,385.93 490.2,386.99 490.7,387.95 491.2,388.82 491.7,389.64 492.2,390.47 492.7,391.35 493.2,392.29 493.7,393.2 494.2,394.01 494.7,394.76 495.2,395.52 495.7,396.36 496.2,397.29 496.7,398.22 497.2,398.98 497.7,399.61 498.2,400.24 498.7,400.96 499.2,401.74 499.7,402.53 500.2,403.33 500.7,404.09 501.2,404.8 501.7,405.45 502.2,406.08 502.7,406.79 503.2,407.62 503.7,408.52 504.2,409.33 504.7,410.02 505.2,410.67 505.7,411.33 506.2,412 506.7,412.64 507.2,413.24 507.7,413.79 508.2,414.29 508.7,414.73 509.2,415.16 509.7,415.68 510.2,416.37 510.7,417.11 511.2,417.75 511.7,418.24 512.2,418.65 512.7,419.04 513.2,419.52 513.7,420.2 514.2,421.07 514.7,421.95 515.2,422.65 515.7,423.13 516.2,423.48 516.7,423.78 517.2,424.13 517.7,424.55 518.2,425.01 518.7,425.55 519.2,426.22 519.7,426.92 520.2,427.46 520.7,427.74 521.2,427.9 521.7,428.13 522.2,428.46 522.7,428.78 523.2,429.02 523.7,429.28 524.2,429.68 524.7,430.19 525.2,430.68 525.7,431.09 526.2,431.49 526.7,431.91 527.2,432.31 527.7,432.67 528.2,433.07 528.7,433.56 529.2,434.09 529.7,434.57 530.2,434.98 530.7,435.34 531.2,435.65 531.7,435.87 532.2,435.97 532.7,436.02 533.2,436.1 533.7,436.25 534.2,436.43 534.7,436.62 535.2,436.83 535.7,437.1 536.2,437.47 536.7,437.93 537.2,438.42 537.7,438.89 538.2,439.31 538.7,439.57 539.2,439.59 539.7,439.47 540.2,439.4 540.7,439.45 541.2,439.58 541.7,439.75 542.2,440.04 542.7,440.53 543.2,441.17 543.7,441.74 544.2,442.02 544.7,442 545.2,441.91 545.7,441.94 546.2,442.16 546.7,442.52 547.2,442.9 547.7,443.25 548.2,443.56 548.7,443.84 549.2,444.08 549.7,444.28 550.2,444.46 550.7,444.6 551.2,444.71 551.7,444.76 552.2,444.82 552.7,444.96 553.2,445.18 553.7,445.4 554.2,445.55 554.7,445.66 555.2,445.83 555.7,446.1 556.2,446.44 556.7,446.81 557.2,447.17 557.7,447.46 558.2,447.65 558.7,447.78 559.2,447.9 559.7,448.05 560.2,448.19 560.7,448.34 561.2,448.49 561.7,448.58 562.2,448.62 562.7,448.7 563.2,448.89 563.7,449.17 564.2,449.44 564.7,449.64 565.2,449.79 565.7,449.89 566.2,449.93 566.7,449.92 567.2,449.96 567.7,450.1 568.2,450.36 568.7,450.65 569.2,450.91 569.7,451.12 570.2,451.29 570.7,451.48 571.2,451.71 571.7,451.92 572.2,452.02 572.7,452.01 573.2,452.02 573.7,452.21 574.2,452.52 574.7,452.83 575.2,453.07 575.7,453.31 576.2,453.51 576.7,453.57 577.2,453.49 577.7,453.43 578.2,453.51 578.7,453.72 579.2,453.86 579.7,453.87 580.2,453.84 580.7,453.91 581.2,454.09 581.7,454.3 582.2,454.51 582.7,454.76 583.2,455.04 583.7,455.23 584.2,455.2 584.7,455.08 585.2,455.05 585.7,455.16 586.2,455.37 586.7,455.67 587.2,456.02 587.7,456.3 588.2,456.44 588.7,456.5 589.2,456.61 589.7,456.73 590.2,456.78 590.7,456.83 591.2,457 591.7,457.33 592.2,457.75 592.7,458.06 593.2,458.16 593.7,458.07 594.2,457.91 594.7,457.78 595.2,457.8 595.7,458.07 596.2,458.49 596.7,458.8 597.2,458.85 597.7,458.79 598.2,458.78 598.7,458.87 599.2,459.02 599.7,459.19 600.2,459.37 600.7,459.52 601.2,459.59 601.7,459.63 602.2,459.72 602.7,459.9 603.2,460.12 603.7,460.32 604.2,460.46 604.7,460.51 605.2,460.48 605.7,460.45 606.2,460.51 606.7,460.68 607.2,460.88 607.7,461.01 608.2,461.05 608.7,461.11 609.2,461.27 609.7,461.45 610.2,461.56 610.7,461.58 611.2,461.62 611.7,461.72 612.2,461.78 612.7,461.7 613.2,461.5 613.7,461.35 614.2,461.42 614.7,461.65 615.2,461.89 615.7,462.03 616.2,462.12 616.7,462.2 617.2,462.28 617.7,462.38 618.2,462.52 618.7,462.69 619.2,462.81 619.7,462.8 620.2,462.64 620.7,462.48 621.2,462.49 621.7,462.7 622.2,463.02 622.7,463.25 623.2,463.22 623.7,463.05 624.2,463 624.7,463.12 625.2,463.3 625.7,463.42 626.2,463.47 626.7,463.48 627.2,463.48 627.7,463.47 628.2,463.41 628.7,463.34 629.2,463.37 629.7,463.46 630.2,463.46 630.7,463.34 631.2,463.27 631.7,463.36 632.2,463.59 632.7,463.87 633.2,464.09 633.7,464.2 634.2,464.22 634.7,464.22 635.2,464.25 635.7,464.27 636.2,464.28 636.7,464.3 637.2,464.33 637.7,464.34 638.2,464.3 638.7,464.26 639.2,464.31 639.7,464.47 640.2,464.6 640.7,464.54 641.2,464.36 641.7,464.21 642.2,464.16 642.7,464.16 643.2,464.18 643.7,464.2 644.2,464.22 644.7,464.22 645.2,464.14 645.7,464.02 646.2,463.93 646.7,463.97 647.2,464.11 647.7,464.28 648.2,464.42 648.7,464.58 649.2,464.75 649.7,464.91 650.2,465 650.7,465.03 651.2,465.01 651.7,464.95 652.2,464.9 652.7,464.91 653.2,465.04 653.7,465.18 654.2,465.27 654.7,465.33 655.2,465.35 655.7,465.25 656.2,465.03 656.7,464.84 657.2,464.82 657.7,464.98 658.2,465.15 658.7,465.19 659.2,465.05 659.7,464.88 660.2,464.88 660.7,465.09 661.2,465.31 661.7,465.41 662.2,465.45 662.7,465.56 663.2,465.71 663.7,465.79 664.2,465.69 664.7,465.49 665.2,465.38 665.7,465.41 666.2,465.47 666.7,465.4 667.2,465.23 667.7,465.03 668.2,464.88 668.7,464.85 669.2,464.99 669.7,465.26 670.2,465.47 670.7,465.48 671.2,465.31 671.7,465.11 672.2,465.11 672.7,465.36 673.2,465.73 673.7,465.93 674.2,465.89 674.7,465.79 675.2,465.74 675.7,465.74 676.2,465.75 676.7,465.76 677.2,465.78 677.7,465.78 678.2,465.74 678.7,465.72 679.2,465.75 679.7,465.75 680.2,465.72 680.7,465.73 681.2,465.8 681.7,465.91 682.2,466.05 682.7,466.15 683.2,466.18 683.7,466.15 684.2,466.16 684.7,466.28 685.2,466.47 685.7,466.57 686.2,466.51 686.7,466.32 687.2,466.08 687.7,465.89 688.2,465.84 688.7,465.94 689.2,466.09 689.7,466.26 690.2,466.47 690.7,466.7 691.2,466.87 691.7,466.86 692.2,466.7 692.7,466.51 693.2,466.46 693.7,466.55 694.2,466.62 694.7,466.55 695.2,466.38 695.7,466.23 696.2,466.18 696.7,466.23 697.2,466.38 697.7,466.59 698.2,466.73 698.7,466.71 699.2,466.62 699.7,466.59 700.2,466.69 700.7,466.84 701.2,466.89 701.7,466.79 702.2,466.64 702.7,466.61 703.2,466.65 703.7,466.61 704.2,466.49 704.7,466.44 705.2,466.56 705.7,466.79 706.2,467.01 706.7,467.15 707.2,467.21 707.7,467.16 708.2,467.11 708.7,467.15 709.2,467.26 709.7,467.34 710.2,467.34 710.7,467.27 711.2,467.13 711.7,467.02 712.2,467 712.7,467.04 713.2,467.04 713.7,467.03 714.2,467.12 714.7,467.32 715.2,467.49 715.7,467.5 716.2,467.37 716.7,467.26 717.2,467.26 717.7,467.36 718.2,467.4 718.7,467.33 719.2,467.34 719.7,467.56 720.2,467.88 720.7,468.12 721.2,468.24 721.7,468.31 722.2,468.34 722.7,468.33 723.2,468.3 723.7,468.22 724.2,468.14 724.7,468.13 725.2,468.19 725.7,468.25 726.2,468.35 726.7,468.58 727.2,468.82" stroke="#1a1aff"/>
<path d="M113.2,420.76 113.7,420.89 114.2,421.05 114.7,421.27 115.2,421.52 115.7,421.7 116.2,421.74 116.7,421.69 117.2,421.68 117.7,421.71 118.2,421.76 118.7,421.82 119.2,421.9 119.7,421.95 120.2,421.95 120.7,421.94 121.2,421.96 121.7,422.01 122.2,422.14 122.7,422.35 123.2,422.59 123.7,422.8 124.2,422.98 124.7,423.13 125.2,423.25 125.7,423.31 126.2,423.31 126.7,423.32 127.2,423.46 127.7,423.73 128.2,423.97 128.7,424.02 129.2,423.87 129.7,423.69 130.2,423.64 130.7,423.76 131.2,423.98 131.7,424.28 132.2,424.61 132.7,424.91 133.2,425.13 133.7,425.26 134.2,425.37 134.7,425.54 135.2,425.78 135.7,426.01 136.2,426.09 136.7,425.99 137.2,425.82 137.7,425.81 138.2,425.99 138.7,426.23 139.2,426.42 139.7,426.52 140.2,426.53 140.7,426.45 141.2,426.31 141.7,426.17 142.2,426.16 142.7,426.28 143.2,426.46 143.7,426.58 144.2,426.61 144.7,426.63 145.2,426.72 145.7,426.83 146.2,426.9 146.7,426.97 147.2,427.15 147.7,427.48 148.2,427.88 148.7,428.18 149.2,428.36 149.7,428.54 150.2,428.76 150.7,428.92 151.2,428.98 151.7,428.98 152.2,428.97 152.7,429 153.2,429.06 153.7,429.13 154.2,429.18 154.7,429.21 155.2,429.29 155.7,429.45 156.2,429.68 156.7,429.84 157.2,429.88 157.7,429.84 158.2,429.79 158.7,429.8 159.2,429.92 159.7,430.2 160.2,430.54 160.7,430.84 161.2,431.05 161.7,431.15 162.2,431.16 162.7,431.13 163.2,431.13 163.7,431.18 164.2,431.24 164.7,431.23 165.2,431.17 165.7,431.13 166.2,431.19 166.7,431.3 167.2,431.37 167.7,431.38 168.2,431.44 168.7,431.65 169.2,431.99 169.7,432.32 170.2,432.57 170.7,432.77 171.2,432.92 171.7,432.98 172.2,432.98 172.7,432.99 173.2,433.04 173.7,433.12 174.2,433.18 174.7,433.21 175.2,433.24 175.7,433.31 176.2,433.39 176.7,433.4 177.2,433.34 177.7,433.32 178.2,433.44 178.7,433.66 179.2,433.84 179.7,433.95 180.2,434 180.7,434.02 181.2,434.05 181.7,434.11 182.2,434.19 182.7,434.3 183.2,434.47 183.7,434.71 184.2,434.99 184.7,435.2 185.2,435.2 185.7,434.98 186.2,434.69 186.7,434.58 187.2,434.71 187.7,434.98 188.2,435.22 188.7,435.3 189.2,435.26 189.7,435.22 190.2,435.32 190.7,435.57 191.2,435.84 191.7,435.99 192.2,436.02 192.7,435.98 193.2,435.96 193.7,436.01 194.2,436.15 194.7,436.29 195.2,436.31 195.7,436.16 196.2,436.02 196.7,436.09 197.2,436.32 197.7,436.49 198.2,436.5 198.7,436.43 199.2,436.43 199.7,436.57 200.2,436.82 200.7,437.1 201.2,437.31 201.7,437.48 202.2,437.6 202.7,437.6 203.2,437.46 203.7,437.23 204.2,437.04 204.7,436.96 205.2,437.02 205.7,437.23 206.2,437.49 206.7,437.7 207.2,437.79 207.7,437.78 208.2,437.78 208.7,437.85 209.2,438.06 209.7,438.37 210.2,438.65 210.7,438.82 211.2,438.82 211.7,438.64 212.2,438.37 212.7,438.16 213.2,438.06 213.7,438.02 214.2,437.98 214.7,437.98 215.2,438.09 215.7,438.34 216.2,438.58 216.7,438.62 217.2,438.48 217.7,438.32 218.2,438.24 218.7,438.29 219.2,438.5 219.7,438.79 220.2,439.01 220.7,439.07 221.2,439.07 221.7,439.11 222.2,439.22 222.7,439.32 223.2,439.35 223.7,439.31 224.2,439.21 224.7,439.13 225.2,439.22 225.7,439.45 226.2,439.64 226.7,439.67 227.2,439.56 227.7,439.42 228.2,439.34 228.7,439.35 229.2,439.41 229.7,439.53 230.2,439.72 230.7,439.92 231.2,440.04 231.7,440.02 232.2,439.93 232.7,439.84 233.2,439.75 233.7,439.62 234.2,439.51 234.7,439.52 235.2,439.59 235.7,439.65 236.2,439.74 236.7,439.9 237.2,440.12 237.7,440.28 238.2,440.35 238.7,440.31 239.2,440.13 239.7,439.9 240.2,439.76 240.7,439.83 241.2,440.05 241.7,440.26 242.2,440.34 242.7,440.25 243.2,440.11 243.7,440.07 244.2,440.16 244.7,440.23 245.2,440.2 245.7,440.15 246.2,440.17 246.7,440.19 247.2,440.11 247.7,439.99 248.2,439.99 248.7,440.17 249.2,440.48 249.7,440.8 250.2,440.98 250.7,440.91 251.2,440.66 251.7,440.41 252.2,440.33 252.7,440.4 253.2,440.5 253.7,440.49 254.2,440.38 254.7,440.24 255.2,440.12 255.7,440.03 256.2,440.01 256.7,440.05 257.2,440.11 257.7,440.15 258.2,440.17 258.7,440.2 259.2,440.24 259.7,440.25 260.2,440.17 260.7,440.04 261.2,439.87 261.7,439.66 262.2,439.42 262.7,439.22 263.2,439.11 263.7,439.11 264.2,439.19 264.7,439.25 265.2,439.27 265.7,439.32 266.2,439.43 266.7,439.52 267.2,439.52 267.7,439.4 268.2,439.16 268.7,438.82 269.2,438.52 269.7,438.35 270.2,438.35 270.7,438.43 271.2,438.46 271.7,438.38 272.2,438.21 272.7,438.01 273.2,437.8 273.7,437.59 274.2,437.43 274.7,437.37 275.2,437.37 275.7,437.29 276.2,437.08 276.7,436.8 277.2,436.6 277.7,436.54 278.2,436.58 278.7,436.62 279.2,436.62 279.7,436.55 280.2,436.38 280.7,436.17 281.2,436.02 281.7,435.96 282.2,435.91 282.7,435.79 283.2,435.61 283.7,435.46 284.2,435.35 284.7,435.23 285.2,435.03 285.7,434.81 286.2,434.6 286.7,434.37 287.2,434.1 287.7,433.82 288.2,433.66 288.7,433.64 289.2,433.6 289.7,433.43 290.2,433.27 290.7,433.19 291.2,433.03 291.7,432.63 292.2,432.12 292.7,431.73 293.2,431.54 293.7,431.41 294.2,431.15 294.7,430.73 295.2,430.3 295.7,430.04 296.2,429.9 296.7,429.66 297.2,429.24 297.7,428.78 298.2,428.4 298.7,428.11 299.2,427.88 299.7,427.71 300.2,427.54 300.7,427.34 301.2,427.1 301.7,426.83 302.2,426.48 302.7,426 303.2,425.46 303.7,424.93 304.2,424.44 304.7,423.91 305.2,423.32 305.7,422.69 306.2,422.04 306.7,421.44 307.2,421.06 307.7,420.93 308.2,420.82 308.7,420.51 309.2,419.94 309.7,419.28 310.2,418.64 310.7,418.07 311.2,417.52 311.7,416.96 312.2,416.38 312.7,415.85 313.2,415.37 313.7,414.9 314.2,414.36 314.7,413.68 315.2,412.84 315.7,411.87 316.2,410.91 316.7,410.14 317.2,409.57 317.7,409.04 318.2,408.44 318.7,407.74 319.2,407.01 319.7,406.3 320.2,405.61 320.7,404.94 321.2,404.28 321.7,403.59 322.2,402.87 322.7,402.12 323.2,401.31 323.7,400.4 324.2,399.46 324.7,398.58 325.2,397.81 325.7,397.19 326.2,396.65 326.7,396.02 327.2,395.17 327.7,394.18 328.2,393.21 328.7,392.31 329.2,391.4 329.7,390.41 330.2,389.35 330.7,388.23 331.2,387.03 331.7,385.77 332.2,384.56 332.7,383.51 333.2,382.7 333.7,381.95 334.2,381.01 334.7,379.86 335.2,378.72 335.7,377.68 336.2,376.74 336.7,375.84 337.2,374.9 337.7,373.78 338.2,372.43 338.7,370.9 339.2,369.36 339.7,367.98 340.2,366.77 340.7,365.67 341.2,364.57 341.7,363.44 342.2,362.27 342.7,361.09 343.2,359.89 343.7,358.67 344.2,357.45 344.7,356.2 345.2,354.89 345.7,353.57 346.2,352.26 346.7,350.99 347.2,349.72 347.7,348.41 348.2,347.03 348.7,345.61 349.2,344.22 349.7,342.89 350.2,341.6 350.7,340.32 351.2,339.02 351.7,337.69 352.2,336.29 352.7,334.83 353.2,333.41 353.7,332.13 354.2,330.97 354.7,329.82 355.2,328.61 355.7,327.31 356.2,325.98 356.7,324.6 357.2,323.11 357.7,321.54 358.2,320.02 358.7,318.63 359.2,317.36 359.7,316.05 360.2,314.63 360.7,313.15 361.2,311.69 361.7,310.24 362.2,308.74 362.7,307.23 363.2,305.77 363.7,304.4 364.2,303.08 364.7,301.74 365.2,300.39 365.7,299.04 366.2,297.71 366.7,296.42 367.2,295.21 367.7,293.99 368.2,292.64 368.7,291.11 369.2,289.51 369.7,288.05 370.2,286.78 370.7,285.57 371.2,284.26 371.7,282.9 372.2,281.58 372.7,280.31 373.2,279.13 373.7,277.99 374.2,276.83 374.7,275.6 375.2,274.33 375.7,273.04 376.2,271.68 376.7,270.27 377.2,268.87 377.7,267.54 378.2,266.33 378.7,265.17 379.2,263.95 379.7,262.68 380.2,261.4 380.7,260.15 381.2,259 381.7,257.95 382.2,257.02 382.7,256.15 383.2,255.26 383.7,254.26 384.2,253.1 384.7,251.86 385.2,250.64 385.7,249.52 386.2,248.53 386.7,247.6 387.2,246.64 387.7,245.63 388.2,244.63 388.7,243.71 389.2,242.86 389.7,242.04 390.2,241.21 390.7,240.3 391.2,239.23 391.7,238.05 392.2,236.91 392.7,235.93 393.2,235.13 393.7,234.46 394.2,233.84 394.7,233.26 395.2,232.74 395.7,232.29 396.2,231.82 396.7,231.27 397.2,230.67 397.7,230.05 398.2,229.39 398.7,228.7 399.2,228.06 399.7,227.5 400.2,227.01 400.7,226.56 401.2,226.16 401.7,225.83 402.2,225.5 402.7,225.11 403.2,224.68 403.7,224.28 404.2,223.91 404.7,223.49 405.2,223.03 405.7,222.72 406.2,222.65 406.7,222.67 407.2,222.6 407.7,222.43 408.2,222.27 408.7,222.16 409.2,222.1 409.7,222.08 410.2,222.07 410.7,222.02 411.2,221.94 411.7,221.84 412.2,221.75 412.7,221.73 413.2,221.84 413.7,222.06 414.2,222.33 414.7,222.52 415.2,222.63 415.7,222.76 416.2,223 416.7,223.3 417.2,223.59 417.7,223.85 418.2,224.12 418.7,224.35 419.2,224.51 419.7,224.65 420.2,224.89 420.7,225.29 421.2,225.82 421.7,226.38 422.2,226.91 422.7,227.39 423.2,227.81 423.7,228.2 424.2,228.61 424.7,229.15 425.2,229.77 425.7,230.36 426.2,230.83 426.7,231.27 427.2,231.81 427.7,232.51 428.2,233.32 428.7,234.15 429.2,234.9 429.7,235.53 430.2,236.1 430.7,236.77 431.2,237.66 431.7,238.69 432.2,239.73 432.7,240.64 433.2,241.39 433.7,241.98 434.2,242.55 434.7,243.25 435.2,244.14 435.7,245.14 436.2,246.09 436.7,246.95 437.2,247.73 437.7,248.54 438.2,249.43 438.7,250.4 439.2,251.39 439.7,252.32 440.2,253.24 440.7,254.26 441.2,255.38 441.7,256.45 442.2,257.43 442.7,258.37 443.2,259.31 443.7,260.18 444.2,260.97 444.7,261.74 445.2,262.55 445.7,263.49 446.2,264.61 446.7,265.86 447.2,267.19 447.7,268.53 448.2,269.84 448.7,271.15 449.2,272.45 449.7,273.64 450.2,274.67 450.7,275.57 451.2,276.46 451.7,277.42 452.2,278.52 452.7,279.82 453.2,281.26 453.7,282.66 454.2,283.82 454.7,284.7 455.2,285.55 455.7,286.59 456.2,287.81 456.7,289.03 457.2,290.15 457.7,291.21 458.2,292.32 458.7,293.55 459.2,294.83 459.7,296.09 460.2,297.36 460.7,298.7 461.2,300.04 461.7,301.21 462.2,302.12 462.7,302.88 463.2,303.71 463.7,304.69 464.2,305.82 464.7,307.14 465.2,308.59 465.7,310.02 466.2,311.32 466.7,312.51 467.2,313.65 467.7,314.78 468.2,315.89 468.7,316.94 469.2,317.93 469.7,318.95 470.2,320.05 470.7,321.15 471.2,322.17 471.7,323.18 472.2,324.36 472.7,325.71 473.2,327.02 473.7,328.1 474.2,329.09 474.7,330.22 475.2,331.43 475.7,332.58 476.2,333.71 476.7,334.94 477.2,336.24 477.7,337.42 478.2,338.45 478.7,339.45 479.2,340.52 479.7,341.66 480.2,342.85 480.7,344.01 481.2,345.1 481.7,346.12 482.2,347.17 482.7,348.25 483.2,349.3 483.7,350.35 484.2,351.51 484.7,352.84 485.2,354.26 485.7,355.62 486.2,356.81 486.7,357.82 487.2,358.78 487.7,359.79 488.2,360.9 488.7,362.05 489.2,363.18 489.7,364.28 490.2,365.36 490.7,366.45 491.2,367.57 491.7,368.73 492.2,369.86 492.7,370.89 493.2,371.82 493.7,372.76 494.2,373.77 494.7,374.81 495.2,375.82 495.7,376.83 496.2,377.89 496.7,379.05 497.2,380.32 497.7,381.54 498.2,382.54 498.7,383.32 499.2,384.07 499.7,384.98 500.2,386.02 500.7,387.05 501.2,387.97 501.7,388.88 502.2,389.88 502.7,390.97 503.2,392.1 503.7,393.21 504.2,394.24 504.7,395.19 505.2,396.05 505.7,396.8 506.2,397.49 506.7,398.19 507.2,398.92 507.7,399.64 508.2,400.3 508.7,400.93 509.2,401.59 509.7,402.33 510.2,403.19 510.7,404.14 511.2,405.05 511.7,405.79 512.2,406.4 512.7,407.02 513.2,407.7 513.7,408.42 514.2,409.18 514.7,409.95 515.2,410.75 515.7,411.54 516.2,412.24 516.7,412.78 517.2,413.22 517.7,413.69 518.2,414.21 518.7,414.72 519.2,415.18 519.7,415.63 520.2,416.05 520.7,416.46 521.2,416.93 521.7,417.53 522.2,418.3 522.7,419.15 523.2,419.98 523.7,420.63 524.2,421.03 524.7,421.26 525.2,421.55 525.7,421.97 526.2,422.51 526.7,423.05 527.2,423.53 527.7,423.99 528.2,424.47 528.7,424.91 529.2,425.25 529.7,425.51 530.2,425.8 530.7,426.14 531.2,426.48 531.7,426.81 532.2,427.1 532.7,427.41 533.2,427.77 533.7,428.14 534.2,428.48 534.7,428.77 535.2,429.12 535.7,429.59 536.2,430.15 536.7,430.69 537.2,431.13 537.7,431.43 538.2,431.58 538.7,431.65 539.2,431.76 539.7,432.03 540.2,432.49 540.7,433.05 541.2,433.55 541.7,433.94 542.2,434.22 542.7,434.45 543.2,434.66 543.7,434.89 544.2,435.12 544.7,435.31 545.2,435.48 545.7,435.7 546.2,436.08 546.7,436.59 547.2,437.08 547.7,437.36 548.2,437.44 548.7,437.5 549.2,437.7 549.7,438.04 550.2,438.44 550.7,438.84 551.2,439.23 551.7,439.61 552.2,439.92 552.7,440.05 553.2,440.05 553.7,440.01 554.2,440.1 554.7,440.38 555.2,440.86 555.7,441.4 556.2,441.78 556.7,441.98 557.2,442.16 557.7,442.38 558.2,442.6 558.7,442.79 559.2,442.99 559.7,443.27 560.2,443.61 560.7,443.97 561.2,444.26 561.7,444.45 562.2,444.6 562.7,444.75 563.2,444.88 563.7,444.94 564.2,445.02 564.7,445.24 565.2,445.64 565.7,446.08 566.2,446.42 566.7,446.68 567.2,446.99 567.7,447.34 568.2,447.58 568.7,447.65 569.2,447.73 569.7,448 570.2,448.45 570.7,448.88 571.2,449.14 571.7,449.27 572.2,449.4 572.7,449.61 573.2,449.91 573.7,450.26 574.2,450.64 574.7,450.97 575.2,451.2 575.7,451.38 576.2,451.53 576.7,451.66 577.2,451.78 577.7,451.97 578.2,452.25 578.7,452.53 579.2,452.7 579.7,452.75 580.2,452.75 580.7,452.84 581.2,453.04 581.7,453.29 582.2,453.51 582.7,453.71 583.2,453.96 583.7,454.22 584.2,454.41 584.7,454.56 585.2,454.8 585.7,455.18 586.2,455.55 586.7,455.72 587.2,455.72 587.7,455.7 588.2,455.78 588.7,455.93 589.2,456.07 589.7,456.19 590.2,456.3 590.7,456.4 591.2,456.48 591.7,456.59 592.2,456.75 592.7,456.88 593.2,456.93 593.7,456.98 594.2,457.08 594.7,457.21 595.2,457.36 595.7,457.58 596.2,457.87 596.7,458.12 597.2,458.3 597.7,458.47 598.2,458.65 598.7,458.76 599.2,458.76 599.7,458.74 600.2,458.83 600.7,459.04 601.2,459.29 601.7,459.49 602.2,459.63 602.7,459.74 603.2,459.91 603.7,460.16 604.2,460.44 604.7,460.67 605.2,460.84 605.7,460.98 606.2,461.08 606.7,461.05 607.2,460.98 607.7,461.03 608.2,461.2 608.7,461.32 609.2,461.25 609.7,461.07 610.2,460.97 610.7,461.03 611.2,461.17 611.7,461.25 612.2,461.21 612.7,461.14 613.2,461.06 613.7,460.96 614.2,460.95 614.7,461.13 615.2,461.37 615.7,461.45 616.2,461.37 616.7,461.32 617.2,461.38 617.7,461.49 618.2,461.6 618.7,461.69 619.2,461.77 619.7,461.84 620.2,461.96 620.7,462.14 621.2,462.39 621.7,462.65 622.2,462.85 622.7,462.93 623.2,462.88 623.7,462.77 624.2,462.72 624.7,462.68 625.2,462.62 625.7,462.63 626.2,462.83 626.7,463.16 627.2,463.41 627.7,463.44 628.2,463.29 628.7,463.06 629.2,462.82 629.7,462.65 630.2,462.66 630.7,462.83 631.2,463.12 631.7,463.42 632.2,463.61 632.7,463.62 633.2,463.53 633.7,463.51 634.2,463.61 634.7,463.77 635.2,463.88 635.7,463.9 636.2,463.9 636.7,463.93 637.2,463.97 637.7,463.97 638.2,463.95 638.7,464 639.2,464.16 639.7,464.3 640.2,464.27 640.7,464.11 641.2,464.04 641.7,464.18 642.2,464.44 642.7,464.69 643.2,464.81 643.7,464.72 644.2,464.52 644.7,464.37 645.2,464.27 645.7,464.17 646.2,464.15 646.7,464.28 647.2,464.51 647.7,464.71 648.2,464.87 648.7,465.05 649.2,465.28 649.7,465.43 650.2,465.39 650.7,465.22 651.2,464.98 651.7,464.71 652.2,464.46 652.7,464.3 653.2,464.27 653.7,464.34 654.2,464.45 654.7,464.53 655.2,464.56 655.7,464.53 656.2,464.52 656.7,464.62 657.2,464.86 657.7,465.1 658.2,465.19 658.7,465.11 659.2,464.91 659.7,464.72 660.2,464.66 660.7,464.78 661.2,464.99 661.7,465.13 662.2,465.2 662.7,465.26 663.2,465.34 663.7,465.37 664.2,465.28 664.7,465.09 665.2,464.96 665.7,464.96 666.2,465.07 666.7,465.24 667.2,465.36 667.7,465.38 668.2,465.28 668.7,465.17 669.2,465.13 669.7,465.2 670.2,465.32 670.7,465.41 671.2,465.46 671.7,465.48 672.2,465.45 672.7,465.43 673.2,465.46 673.7,465.53 674.2,465.56 674.7,465.53 675.2,465.52 675.7,465.59 676.2,465.72 676.7,465.8 677.2,465.77 677.7,465.68 678.2,465.59 678.7,465.57 679.2,465.67 679.7,465.84 680.2,465.98 680.7,466.03 681.2,466.02 681.7,466.02 682.2,466.02 682.7,466.01 683.2,465.97 683.7,465.9 684.2,465.82 684.7,465.88 685.2,466.15 685.7,466.45 686.2,466.55 686.7,466.46 687.2,466.38 687.7,466.34 688.2,466.27 688.7,466.15 689.2,466.09 689.7,466.13 690.2,466.19 690.7,466.17 691.2,466.05 691.7,465.87 692.2,465.75 692.7,465.75 693.2,465.87 693.7,466.03 694.2,466.15 694.7,466.15 695.2,466.04 695.7,465.96 696.2,466 696.7,466.07 697.2,466.12 697.7,466.15 698.2,466.22 698.7,466.39 699.2,466.61 699.7,466.79 700.2,466.85 700.7,466.89 701.2,466.97 701.7,467.04 702.2,467.04 702.7,467 703.2,466.99 703.7,467.08 704.2,467.21 704.7,467.27 705.2,467.23 705.7,467.16 706.2,467.13 706.7,467.19 707.2,467.31 707.7,467.4 708.2,467.33 708.7,467.16 709.2,467.02 709.7,466.99 710.2,467.06 710.7,467.15 711.2,467.22 711.7,467.23 712.2,467.22 712.7,467.24 713.2,467.24 713.7,467.2 714.2,467.12 714.7,467.07 715.2,467.13 715.7,467.29 716.2,467.45 716.7,467.56 717.2,467.63 717.7,467.68 718.2,467.73 718.7,467.81 719.2,467.93 719.7,468 720.2,467.94 720.7,467.83 721.2,467.8 721.7,467.85 722.2,467.92 722.7,467.93 723.2,467.9 723.7,467.91 724.2,467.95 724.7,468.01 725.2,468.11 725.7,468.25 726.2,468.39 726.7,468.46 727.2,468.47" stroke="#ff1aff"/>
<path d="M113.2,426.82 113.7,426.75 114.2,426.6 114.7,426.44 115.2,426.31 115.7,426.27 116.2,426.36 116.7,426.56 117.2,426.84 117.7,427.16 118.2,427.45 118.7,427.64 119.2,427.72 119.7,427.73 120.2,427.74 120.7,427.8 121.2,427.82 121.7,427.7 122.2,427.48 122.7,427.34 123.2,427.41 123.7,427.67 124.2,427.96 124.7,428.14 125.2,428.14 125.7,428.06 126.2,427.96 126.7,427.85 127.2,427.7 127.7,427.66 128.2,427.88 128.7,428.33 129.2,428.79 129.7,429.09 130.2,429.21 130.7,429.2 131.2,429.1 131.7,429.05 132.2,429.06 132.7,429.08 133.2,429.13 133.7,429.28 134.2,429.5 134.7,429.7 135.2,429.83 135.7,429.89 136.2,429.87 136.7,429.79 137.2,429.72 137.7,429.68 138.2,429.68 138.7,429.79 139.2,430.01 139.7,430.29 140.2,430.53 140.7,430.72 141.2,430.91 141.7,431.06 142.2,431.09 142.7,431.04 143.2,430.98 143.7,430.96 144.2,430.95 144.7,430.96 145.2,430.99 145.7,431.09 146.2,431.29 146.7,431.59 147.2,431.93 147.7,432.24 148.2,432.49 148.7,432.67 149.2,432.75 149.7,432.76 150.2,432.76 150.7,432.8 151.2,432.8 151.7,432.75 152.2,432.73 152.7,432.83 153.2,433.05 153.7,433.3 154.2,433.49 154.7,433.55 155.2,433.53 155.7,433.5 156.2,433.56 156.7,433.74 157.2,433.98 157.7,434.2 158.2,434.37 158.7,434.52 159.2,434.64 159.7,434.69 160.2,434.63 160.7,434.52 161.2,434.46 161.7,434.56 162.2,434.8 162.7,435.11 163.2,435.36 163.7,435.49 164.2,435.48 164.7,435.47 165.2,435.54 165.7,435.66 166.2,435.73 166.7,435.73 167.2,435.7 167.7,435.68 168.2,435.72 168.7,435.85 169.2,436.07 169.7,436.3 170.2,436.45 170.7,436.55 171.2,436.68 171.7,436.83 172.2,436.89 172.7,436.86 173.2,436.86 173.7,436.92 174.2,437 174.7,437.11 175.2,437.27 175.7,437.45 176.2,437.57 176.7,437.59 177.2,437.58 177.7,437.66 178.2,437.86 178.7,438.08 179.2,438.25 179.7,438.35 180.2,438.38 180.7,438.33 181.2,438.27 181.7,438.26 182.2,438.26 182.7,438.25 183.2,438.25 183.7,438.27 184.2,438.3 184.7,438.37 185.2,438.57 185.7,438.87 186.2,439.11 186.7,439.19 187.2,439.15 187.7,439.11 188.2,439.11 188.7,439.15 189.2,439.25 189.7,439.39 190.2,439.5 190.7,439.58 191.2,439.66 191.7,439.77 192.2,439.89 192.7,439.96 193.2,439.96 193.7,439.96 194.2,439.99 194.7,440.02 195.2,439.98 195.7,439.97 196.2,440.08 196.7,440.28 197.2,440.47 197.7,440.66 198.2,440.87 198.7,441.02 199.2,441.06 199.7,441.02 200.2,441 200.7,440.98 201.2,440.84 201.7,440.59 202.2,440.39 202.7,440.38 203.2,440.56 203.7,440.82 204.2,441.06 204.7,441.22 205.2,441.3 205.7,441.33 206.2,441.37 206.7,441.47 207.2,441.59 207.7,441.65 208.2,441.62 208.7,441.55 209.2,441.5 209.7,441.5 210.2,441.55 210.7,441.55 211.2,441.52 211.7,441.53 212.2,441.59 212.7,441.64 213.2,441.65 213.7,441.65 214.2,441.67 214.7,441.79 215.2,441.99 215.7,442.22 216.2,442.42 216.7,442.54 217.2,442.58 217.7,442.57 218.2,442.58 218.7,442.64 219.2,442.7 219.7,442.69 220.2,442.59 220.7,442.45 221.2,442.34 221.7,442.3 222.2,442.32 222.7,442.39 223.2,442.53 223.7,442.73 224.2,442.89 224.7,442.89 225.2,442.79 225.7,442.74 226.2,442.85 226.7,443 227.2,443.01 227.7,442.85 228.2,442.68 228.7,442.7 229.2,442.94 229.7,443.27 230.2,443.48 230.7,443.45 231.2,443.21 231.7,442.9 232.2,442.74 232.7,442.84 233.2,443.17 233.7,443.53 234.2,443.73 234.7,443.68 235.2,443.45 235.7,443.22 236.2,443.09 236.7,443.07 237.2,443.09 237.7,443.02 238.2,442.88 238.7,442.84 239.2,443.04 239.7,443.31 240.2,443.37 240.7,443.24 241.2,443.1 241.7,443.01 242.2,442.87 242.7,442.63 243.2,442.44 243.7,442.45 244.2,442.67 244.7,442.94 245.2,443.12 245.7,443.15 246.2,443.07 246.7,442.97 247.2,442.92 247.7,442.91 248.2,442.9 248.7,442.87 249.2,442.84 249.7,442.84 250.2,442.79 250.7,442.63 251.2,442.38 251.7,442.21 252.2,442.19 252.7,442.17 253.2,442.03 253.7,441.87 254.2,441.85 254.7,441.96 255.2,442.04 255.7,441.99 256.2,441.82 256.7,441.59 257.2,441.37 257.7,441.2 258.2,441.09 258.7,441.06 259.2,441.11 259.7,441.19 260.2,441.29 260.7,441.39 261.2,441.48 261.7,441.52 262.2,441.49 262.7,441.38 263.2,441.23 263.7,441.08 264.2,440.89 264.7,440.61 265.2,440.23 265.7,439.92 266.2,439.78 266.7,439.74 267.2,439.69 267.7,439.64 268.2,439.62 268.7,439.65 269.2,439.69 269.7,439.65 270.2,439.45 270.7,439.1 271.2,438.73 271.7,438.45 272.2,438.3 272.7,438.27 273.2,438.32 273.7,438.37 274.2,438.32 274.7,438.14 275.2,437.87 275.7,437.61 276.2,437.38 276.7,437.14 277.2,436.83 277.7,436.51 278.2,436.29 278.7,436.11 279.2,435.93 279.7,435.8 280.2,435.73 280.7,435.64 281.2,435.44 281.7,435.2 282.2,435.09 282.7,435.11 283.2,435.07 283.7,434.8 284.2,434.32 284.7,433.74 285.2,433.2 285.7,432.76 286.2,432.42 286.7,432.2 287.2,432.13 287.7,432.11 288.2,431.96 288.7,431.64 289.2,431.27 289.7,430.93 290.2,430.63 290.7,430.34 291.2,430 291.7,429.5 292.2,428.88 292.7,428.33 293.2,427.98 293.7,427.71 294.2,427.36 294.7,426.95 295.2,426.59 295.7,426.29 296.2,425.99 296.7,425.66 297.2,425.29 297.7,424.83 298.2,424.25 298.7,423.59 299.2,423 299.7,422.56 300.2,422.24 300.7,421.88 301.2,421.4 301.7,420.83 302.2,420.24 302.7,419.62 303.2,418.96 303.7,418.32 304.2,417.8 304.7,417.4 305.2,417.01 305.7,416.49 306.2,415.79 306.7,414.98 307.2,414.08 307.7,413.19 308.2,412.43 308.7,411.87 309.2,411.41 309.7,410.89 310.2,410.17 310.7,409.25 311.2,408.31 311.7,407.49 312.2,406.76 312.7,406.03 313.2,405.25 313.7,404.44 314.2,403.65 314.7,402.88 315.2,402.09 315.7,401.23 316.2,400.29 316.7,399.34 317.2,398.38 317.7,397.38 318.2,396.36 318.7,395.38 319.2,394.46 319.7,393.62 320.2,392.84 320.7,392.05 321.2,391.13 321.7,390.07 322.2,388.95 322.7,387.82 323.2,386.68 323.7,385.54 324.2,384.45 324.7,383.47 325.2,382.56 325.7,381.57 326.2,380.36 326.7,378.99 327.2,377.64 327.7,376.45 328.2,375.32 328.7,374.12 329.2,372.86 329.7,371.61 330.2,370.33 330.7,368.93 331.2,367.45 331.7,366.01 332.2,364.72 332.7,363.56 333.2,362.45 333.7,361.32 334.2,360.17 334.7,358.96 335.2,357.61 335.7,356.07 336.2,354.45 336.7,352.88 337.2,351.49 337.7,350.27 338.2,349.1 338.7,347.86 339.2,346.51 339.7,345.07 340.2,343.56 340.7,342.04 341.2,340.55 341.7,339.1 342.2,337.7 342.7,336.27 343.2,334.81 343.7,333.39 344.2,332.08 344.7,330.82 345.2,329.47 345.7,327.98 346.2,326.43 346.7,324.89 347.2,323.42 347.7,322.02 348.2,320.7 348.7,319.38 349.2,318.05 349.7,316.69 350.2,315.3 350.7,313.81 351.2,312.19 351.7,310.57 352.2,309.1 352.7,307.74 353.2,306.37 353.7,304.99 354.2,303.66 354.7,302.34 355.2,300.92 355.7,299.36 356.2,297.75 356.7,296.18 357.2,294.61 357.7,293.05 358.2,291.57 358.7,290.18 359.2,288.75 359.7,287.26 360.2,285.81 360.7,284.44 361.2,283.07 361.7,281.61 362.2,279.99 362.7,278.31 363.2,276.71 363.7,275.2 364.2,273.65 364.7,272.03 365.2,270.33 365.7,268.61 366.2,266.93 366.7,265.36 367.2,263.92 367.7,262.37 368.2,260.54 368.7,258.5 369.2,256.6 369.7,254.97 370.2,253.4 370.7,251.66 371.2,249.71 371.7,247.68 372.2,245.7 372.7,243.83 373.2,242.11 373.7,240.5 374.2,238.84 374.7,236.99 375.2,234.99 375.7,232.97 376.2,231.02 376.7,229.14 377.2,227.29 377.7,225.48 378.2,223.73 378.7,222 379.2,220.23 379.7,218.4 380.2,216.56 380.7,214.72 381.2,212.89 381.7,211.06 382.2,209.29 382.7,207.6 383.2,206.01 383.7,204.49 384.2,202.97 384.7,201.42 385.2,199.9 385.7,198.5 386.2,197.25 386.7,196.09 387.2,194.93 387.7,193.7 388.2,192.37 388.7,190.95 389.2,189.46 389.7,187.99 390.2,186.61 390.7,185.37 391.2,184.21 391.7,183.09 392.2,181.94 392.7,180.76 393.2,179.54 393.7,178.35 394.2,177.22 394.7,176.16 395.2,175.16 395.7,174.25 396.2,173.42 396.7,172.58 397.2,171.74 397.7,170.92 398.2,170.15 398.7,169.37 399.2,168.52 399.7,167.59 400.2,166.66 400.7,165.85 401.2,165.17 401.7,164.57 402.2,164.01 402.7,163.44 403.2,162.77 403.7,161.99 404.2,161.2 404.7,160.55 405.2,160.07 405.7,159.67 406.2,159.3 406.7,159 407.2,158.73 407.7,158.42 408.2,158.04 408.7,157.66 409.2,157.34 409.7,157.08 410.2,156.85 410.7,156.65 411.2,156.44 411.7,156.18 412.2,155.87 412.7,155.6 413.2,155.43 413.7,155.37 414.2,155.39 414.7,155.48 415.2,155.59 415.7,155.7 416.2,155.8 416.7,155.87 417.2,155.9 417.7,155.91 418.2,155.88 418.7,155.89 419.2,156.08 419.7,156.46 420.2,156.93 420.7,157.4 421.2,157.83 421.7,158.21 422.2,158.55 422.7,158.93 423.2,159.35 423.7,159.75 424.2,160.1 424.7,160.44 425.2,160.88 425.7,161.44 426.2,162.06 426.7,162.67 427.2,163.28 427.7,163.95 428.2,164.75 428.7,165.7 429.2,166.74 429.7,167.74 430.2,168.62 430.7,169.45 431.2,170.23 431.7,170.96 432.2,171.7 432.7,172.56 433.2,173.51 433.7,174.44 434.2,175.33 434.7,176.29 435.2,177.43 435.7,178.65 436.2,179.73 436.7,180.65 437.2,181.54 437.7,182.44 438.2,183.43 438.7,184.6 439.2,185.94 439.7,187.34 440.2,188.72 440.7,190.12 441.2,191.61 441.7,193.15 442.2,194.68 442.7,196.15 443.2,197.58 443.7,199 444.2,200.39 444.7,201.79 445.2,203.32 445.7,204.98 446.2,206.59 446.7,208.04 447.2,209.45 447.7,210.93 448.2,212.45 448.7,213.99 449.2,215.59 449.7,217.23 450.2,218.85 450.7,220.46 451.2,222.12 451.7,223.85 452.2,225.63 452.7,227.48 453.2,229.33 453.7,231.13 454.2,232.86 454.7,234.56 455.2,236.24 455.7,237.87 456.2,239.52 456.7,241.27 457.2,243.12 457.7,244.99 458.2,246.83 458.7,248.58 459.2,250.19 459.7,251.68 460.2,253.22 460.7,254.92 461.2,256.65 461.7,258.23 462.2,259.65 462.7,261.08 463.2,262.71 463.7,264.61 464.2,266.61 464.7,268.45 465.2,270.02 465.7,271.49 466.2,273.02 466.7,274.58 467.2,276 467.7,277.26 468.2,278.5 468.7,279.89 469.2,281.41 469.7,282.89 470.2,284.25 470.7,285.55 471.2,286.86 471.7,288.2 472.2,289.5 472.7,290.77 473.2,292.07 473.7,293.42 474.2,294.76 474.7,296.03 475.2,297.28 475.7,298.62 476.2,300.07 476.7,301.47 477.2,302.69 477.7,303.71 478.2,304.66 478.7,305.72 479.2,307.01 479.7,308.49 480.2,310.03 480.7,311.46 481.2,312.73 481.7,313.89 482.2,315 482.7,316.11 483.2,317.26 483.7,318.52 484.2,319.94 484.7,321.45 485.2,322.95 485.7,324.44 486.2,325.86 486.7,327.19 487.2,328.5 487.7,329.88 488.2,331.36 488.7,332.87 489.2,334.28 489.7,335.54 490.2,336.69 490.7,337.81 491.2,338.93 491.7,340.1 492.2,341.35 492.7,342.67 493.2,344.06 493.7,345.49 494.2,346.93 494.7,348.34 495.2,349.72 495.7,351.06 496.2,352.28 496.7,353.38 497.2,354.55 497.7,355.94 498.2,357.51 498.7,359.06 499.2,360.41 499.7,361.55 500.2,362.62 500.7,363.72 501.2,364.87 501.7,366.01 502.2,367.15 502.7,368.33 503.2,369.58 503.7,370.81 504.2,371.9 504.7,372.84 505.2,373.71 505.7,374.6 506.2,375.59 506.7,376.71 507.2,377.91 507.7,379.16 508.2,380.48 508.7,381.83 509.2,383.12 509.7,384.31 510.2,385.42 510.7,386.43 511.2,387.32 511.7,388.05 512.2,388.69 512.7,389.4 513.2,390.25 513.7,391.19 514.2,392.09 514.7,392.9 515.2,393.59 515.7,394.25 516.2,394.96 516.7,395.73 517.2,396.52 517.7,397.34 518.2,398.21 518.7,399.09 519.2,399.91 519.7,400.61 520.2,401.26 520.7,401.99 521.2,402.85 521.7,403.77 522.2,404.6 522.7,405.32 523.2,405.97 523.7,406.64 524.2,407.31 524.7,407.94 525.2,408.45 525.7,408.86 526.2,409.26 526.7,409.78 527.2,410.46 527.7,411.27 528.2,412.11 528.7,412.93 529.2,413.64 529.7,414.24 530.2,414.82 530.7,415.42 531.2,416.05 531.7,416.69 532.2,417.3 532.7,417.86 533.2,418.39 533.7,418.96 534.2,419.59 534.7,420.19 535.2,420.72 535.7,421.27 536.2,421.88 536.7,422.48 537.2,422.98 537.7,423.39 538.2,423.83 538.7,424.37 539.2,424.97 539.7,425.59 540.2,426.2 540.7,426.76 541.2,427.22 541.7,427.59 542.2,427.9 542.7,428.2 543.2,428.52 543.7,428.85 544.2,429.17 544.7,429.53 545.2,429.96 545.7,430.45 546.2,431 546.7,431.59 547.2,432.15 547.7,432.62 548.2,433.02 548.7,433.37 549.2,433.7 549.7,434.04 550.2,434.36 550.7,434.62 551.2,434.82 551.7,435.03 552.2,435.44 552.7,436.08 553.2,436.78 553.7,437.33 554.2,437.64 554.7,437.8 555.2,437.94 555.7,438.2 556.2,438.63 556.7,439.15 557.2,439.68 557.7,440.1 558.2,440.38 558.7,440.65 559.2,441.02 559.7,441.44 560.2,441.74 560.7,441.94 561.2,442.2 561.7,442.52 562.2,442.77 562.7,442.91 563.2,443.05 563.7,443.31 564.2,443.75 564.7,444.31 565.2,444.85 565.7,445.31 566.2,445.68 566.7,445.93 567.2,445.99 567.7,445.89 568.2,445.86 568.7,446.1 569.2,446.57 569.7,447.01 570.2,447.24 570.7,447.24 571.2,447.18 571.7,447.21 572.2,447.41 572.7,447.71 573.2,448.06 573.7,448.46 574.2,448.88 574.7,449.22 575.2,449.44 575.7,449.57 576.2,449.7 576.7,449.86 577.2,450.06 577.7,450.29 578.2,450.57 578.7,450.86 579.2,451.08 579.7,451.22 580.2,451.33 580.7,451.45 581.2,451.52 581.7,451.58 582.2,451.7 582.7,451.96 583.2,452.33 583.7,452.75 584.2,453.07 584.7,453.23 585.2,453.32 585.7,453.41 586.2,453.53 586.7,453.68 587.2,453.84 587.7,454.03 588.2,454.27 588.7,454.51 589.2,454.68 589.7,454.85 590.2,455.09 590.7,455.3 591.2,455.36 591.7,455.35 592.2,455.39 592.7,455.46 593.2,455.51 593.7,455.56 594.2,455.7 594.7,455.96 595.2,456.25 595.7,456.51 596.2,456.79 596.7,457.07 597.2,457.3 597.7,457.44 598.2,457.57 598.7,457.75 599.2,457.89 599.7,457.86 600.2,457.72 600.7,457.63 601.2,457.7 601.7,457.95 602.2,458.32 602.7,458.64 603.2,458.79 603.7,458.73 604.2,458.54 604.7,458.31 605.2,458.18 605.7,458.3 606.2,458.67 606.7,459.11 607.2,459.37 607.7,459.41 608.2,459.31 608.7,459.24 609.2,459.34 609.7,459.55 610.2,459.67 610.7,459.59 611.2,459.45 611.7,459.43 612.2,459.55 612.7,459.64 613.2,459.66 613.7,459.71 614.2,459.85 614.7,460.06 615.2,460.29 615.7,460.53 616.2,460.71 616.7,460.75 617.2,460.62 617.7,460.44 618.2,460.39 618.7,460.56 619.2,460.87 619.7,461.14 620.2,461.24 620.7,461.19 621.2,461.12 621.7,461.13 622.2,461.29 622.7,461.55 623.2,461.8 623.7,461.94 624.2,461.92 624.7,461.76 625.2,461.62 625.7,461.63 626.2,461.79 626.7,461.97 627.2,462.1 627.7,462.19 628.2,462.29 628.7,462.43 629.2,462.52 629.7,462.49 630.2,462.38 630.7,462.3 631.2,462.29 631.7,462.35 632.2,462.43 632.7,462.48 633.2,462.54 633.7,462.64 634.2,462.75 634.7,462.82 635.2,462.79 635.7,462.64 636.2,462.45 636.7,462.4 637.2,462.53 637.7,462.75 638.2,462.97 638.7,463.24 639.2,463.57 639.7,463.89 640.2,464.03 640.7,463.92 641.2,463.72 641.7,463.63 642.2,463.65 642.7,463.68 643.2,463.66 643.7,463.67 644.2,463.78 644.7,463.99 645.2,464.2 645.7,464.31 646.2,464.31 646.7,464.23 647.2,464.11 647.7,463.98 648.2,463.86 648.7,463.75 649.2,463.71 649.7,463.83 650.2,464.06 650.7,464.23 651.2,464.19 651.7,464.02 652.2,463.91 652.7,463.91 653.2,463.97 653.7,464.02 654.2,464.08 654.7,464.17 655.2,464.32 655.7,464.48 656.2,464.57 656.7,464.58 657.2,464.65 657.7,464.87 658.2,465.1 658.7,465.18 659.2,465.08 659.7,464.95 660.2,464.95 660.7,465.1 661.2,465.28 661.7,465.36 662.2,465.26 662.7,465.04 663.2,464.87 663.7,464.88 664.2,464.99 664.7,465.04 665.2,464.99 665.7,464.91 666.2,464.83 666.7,464.78 667.2,464.82 667.7,464.93 668.2,464.95 668.7,464.86 669.2,464.78 669.7,464.85 670.2,465.02 670.7,465.16 671.2,465.19 671.7,465.22 672.2,465.36 672.7,465.5 673.2,465.49 673.7,465.38 674.2,465.3 674.7,465.33 675.2,465.44 675.7,465.62 676.2,465.83 676.7,466 677.2,466.02 677.7,465.93 678.2,465.86 678.7,465.88 679.2,465.96 679.7,466.01 680.2,465.99 680.7,465.93 681.2,465.92 681.7,466.03 682.2,466.23 682.7,466.41 683.2,466.48 683.7,466.39 684.2,466.2 684.7,466.05 685.2,465.99 685.7,465.97 686.2,465.95 686.7,465.98 687.2,466.08 687.7,466.26 688.2,466.47 688.7,466.57 689.2,466.48 689.7,466.28 690.2,466.16 690.7,466.21 691.2,466.37 691.7,466.46 692.2,466.38 692.7,466.21 693.2,466.12 693.7,466.12 694.2,466.12 694.7,466.17 695.2,466.36 695.7,466.57 696.2,466.71 696.7,466.73 697.2,466.69 697.7,466.71 698.2,466.89 698.7,467.2 699.2,467.43 699.7,467.5 700.2,467.52 700.7,467.55 701.2,467.53 701.7,467.4 702.2,467.19 702.7,467.03 703.2,467.03 703.7,467.17 704.2,467.32 704.7,467.34 705.2,467.24 705.7,467.09 706.2,466.97 706.7,466.9 707.2,466.89 707.7,466.98 708.2,467.13 708.7,467.26 709.2,467.33 709.7,467.42 710.2,467.53 710.7,467.61 711.2,467.59 711.7,467.5 712.2,467.38 712.7,467.32 713.2,467.36 713.7,467.53 714.2,467.72 714.7,467.79 715.2,467.69 715.7,467.56 716.2,467.51 716.7,467.52 717.2,467.5 717.7,467.4 718.2,467.29 718.7,467.24 719.2,467.37 719.7,467.64 720.2,467.9 720.7,467.98 721.2,467.91 721.7,467.8 722.2,467.7 722.7,467.65 723.2,467.71 723.7,467.88 724.2,468.05 724.7,468.13 725.2,468.13 725.7,468.17 726.2,468.29 726.7,468.41 727.2,468.46" stroke="#1a8a1a"/>
<path d="M113.2,427.8 113.7,428.17 114.2,428.53 114.7,428.74 115.2,428.77 115.7,428.75 116.2,428.82 116.7,429.02 117.2,429.22 117.7,429.32 118.2,429.39 118.7,429.58 119.2,429.86 119.7,430.13 120.2,430.34 120.7,430.58 121.2,430.83 121.7,431 122.2,431.06 122.7,431.05 123.2,431.01 123.7,430.95 124.2,430.94 124.7,431 125.2,431.15 125.7,431.4 126.2,431.71 126.7,431.95 127.2,432.01 127.7,431.95 128.2,431.89 128.7,431.86 129.2,431.83 129.7,431.8 130.2,431.83 130.7,431.96 131.2,432.16 131.7,432.44 132.2,432.79 132.7,433.07 133.2,433.14 133.7,433 134.2,432.88 134.7,432.96 135.2,433.26 135.7,433.63 136.2,433.87 136.7,433.93 137.2,433.95 137.7,434.03 138.2,434.17 138.7,434.33 139.2,434.47 139.7,434.52 140.2,434.46 140.7,434.42 141.2,434.46 141.7,434.53 142.2,434.51 142.7,434.47 143.2,434.49 143.7,434.54 144.2,434.57 144.7,434.66 145.2,434.79 145.7,434.89 146.2,434.95 146.7,435.04 147.2,435.11 147.7,435.18 148.2,435.3 148.7,435.57 149.2,435.91 149.7,436.18 150.2,436.23 150.7,436.04 151.2,435.73 151.7,435.49 152.2,435.44 152.7,435.59 153.2,435.83 153.7,436.09 154.2,436.28 154.7,436.34 155.2,436.33 155.7,436.35 156.2,436.43 156.7,436.55 157.2,436.78 157.7,437.06 158.2,437.23 158.7,437.16 159.2,436.96 159.7,436.86 160.2,437.01 160.7,437.32 161.2,437.53 161.7,437.5 162.2,437.33 162.7,437.28 163.2,437.43 163.7,437.63 164.2,437.71 164.7,437.63 165.2,437.52 165.7,437.54 166.2,437.7 166.7,437.88 167.2,438.05 167.7,438.25 168.2,438.42 168.7,438.52 169.2,438.55 169.7,438.56 170.2,438.57 170.7,438.54 171.2,438.48 171.7,438.4 172.2,438.33 172.7,438.28 173.2,438.28 173.7,438.32 174.2,438.37 174.7,438.41 175.2,438.49 175.7,438.6 176.2,438.63 176.7,438.52 177.2,438.41 177.7,438.45 178.2,438.64 178.7,438.82 179.2,438.89 179.7,438.87 180.2,438.81 180.7,438.81 181.2,438.92 181.7,439.13 182.2,439.35 182.7,439.47 183.2,439.37 183.7,439.07 184.2,438.79 184.7,438.71 185.2,438.81 185.7,438.95 186.2,439.12 186.7,439.37 187.2,439.6 187.7,439.65 188.2,439.51 188.7,439.34 189.2,439.32 189.7,439.51 190.2,439.8 190.7,440.1 191.2,440.3 191.7,440.35 192.2,440.24 192.7,440.07 193.2,439.9 193.7,439.79 194.2,439.72 194.7,439.72 195.2,439.81 195.7,439.92 196.2,439.98 196.7,439.97 197.2,440.01 197.7,440.2 198.2,440.47 198.7,440.68 199.2,440.73 199.7,440.68 200.2,440.65 200.7,440.7 201.2,440.81 201.7,440.9 202.2,440.93 202.7,440.86 203.2,440.74 203.7,440.68 204.2,440.79 204.7,441.02 205.2,441.28 205.7,441.49 206.2,441.57 206.7,441.48 207.2,441.34 207.7,441.31 208.2,441.46 208.7,441.71 209.2,441.91 209.7,441.94 210.2,441.81 210.7,441.67 211.2,441.63 211.7,441.72 212.2,441.85 212.7,441.99 213.2,442.12 213.7,442.24 214.2,442.34 214.7,442.41 215.2,442.46 215.7,442.54 216.2,442.64 216.7,442.74 217.2,442.82 217.7,442.94 218.2,443.13 218.7,443.29 219.2,443.35 219.7,443.33 220.2,443.34 220.7,443.43 221.2,443.53 221.7,443.61 222.2,443.65 222.7,443.69 223.2,443.8 223.7,443.98 224.2,444.16 224.7,444.27 225.2,444.32 225.7,444.34 226.2,444.31 226.7,444.27 227.2,444.27 227.7,444.31 228.2,444.36 228.7,444.42 229.2,444.49 229.7,444.49 230.2,444.43 230.7,444.4 231.2,444.51 231.7,444.71 232.2,444.84 232.7,444.81 233.2,444.76 233.7,444.82 234.2,444.99 234.7,445.13 235.2,445.17 235.7,445.14 236.2,445.15 236.7,445.23 237.2,445.33 237.7,445.41 238.2,445.48 238.7,445.6 239.2,445.79 239.7,446 240.2,446.17 240.7,446.19 241.2,446.07 241.7,445.93 242.2,445.85 242.7,445.8 243.2,445.69 243.7,445.5 244.2,445.35 244.7,445.33 245.2,445.44 245.7,445.53 246.2,445.54 246.7,445.5 247.2,445.48 247.7,445.47 248.2,445.43 248.7,445.4 249.2,445.38 249.7,445.31 250.2,445.22 250.7,445.18 251.2,445.22 251.7,445.31 252.2,445.42 252.7,445.52 253.2,445.63 253.7,445.72 254.2,445.69 254.7,445.46 255.2,445.07 255.7,444.71 256.2,444.55 256.7,444.58 257.2,444.59 257.7,444.45 258.2,444.29 258.7,444.28 259.2,444.38 259.7,444.38 260.2,444.17 260.7,443.88 261.2,443.68 261.7,443.66 262.2,443.77 262.7,443.87 263.2,443.81 263.7,443.48 264.2,442.99 264.7,442.57 265.2,442.36 265.7,442.29 266.2,442.25 266.7,442.2 267.2,442.15 267.7,442.06 268.2,441.89 268.7,441.65 269.2,441.43 269.7,441.31 270.2,441.24 270.7,441.07 271.2,440.74 271.7,440.32 272.2,439.95 272.7,439.7 273.2,439.53 273.7,439.39 274.2,439.24 274.7,439.13 275.2,439.09 275.7,439.05 276.2,438.84 276.7,438.46 277.2,438.07 277.7,437.79 278.2,437.57 278.7,437.33 279.2,437.05 279.7,436.79 280.2,436.59 280.7,436.35 281.2,435.94 281.7,435.42 282.2,434.93 282.7,434.6 283.2,434.37 283.7,434.06 284.2,433.59 284.7,433.08 285.2,432.76 285.7,432.65 286.2,432.55 286.7,432.18 287.2,431.48 287.7,430.69 288.2,430.11 288.7,429.83 289.2,429.65 289.7,429.36 290.2,428.9 290.7,428.37 291.2,427.81 291.7,427.21 292.2,426.58 292.7,425.95 293.2,425.36 293.7,424.79 294.2,424.23 294.7,423.69 295.2,423.15 295.7,422.6 296.2,422.07 296.7,421.6 297.2,421.17 297.7,420.68 298.2,420.06 298.7,419.29 299.2,418.45 299.7,417.65 300.2,416.92 300.7,416.24 301.2,415.65 301.7,415.14 302.2,414.68 302.7,414.2 303.2,413.59 303.7,412.81 304.2,411.96 304.7,411.12 305.2,410.27 305.7,409.42 306.2,408.61 306.7,407.78 307.2,406.76 307.7,405.56 308.2,404.35 308.7,403.33 309.2,402.55 309.7,401.87 310.2,401.14 310.7,400.33 311.2,399.44 311.7,398.45 312.2,397.39 312.7,396.29 313.2,395.22 313.7,394.21 314.2,393.27 314.7,392.35 315.2,391.41 315.7,390.42 316.2,389.31 316.7,388.01 317.2,386.62 317.7,385.35 318.2,384.28 318.7,383.35 319.2,382.44 319.7,381.43 320.2,380.27 320.7,378.91 321.2,377.38 321.7,375.83 322.2,374.47 322.7,373.39 323.2,372.5 323.7,371.63 324.2,370.62 324.7,369.4 325.2,367.97 325.7,366.47 326.2,365.01 326.7,363.63 327.2,362.34 327.7,361.17 328.2,359.98 328.7,358.57 329.2,356.92 329.7,355.22 330.2,353.62 330.7,352.24 331.2,351.07 331.7,349.98 332.2,348.81 332.7,347.47 333.2,345.99 333.7,344.48 334.2,343.02 334.7,341.54 335.2,339.93 335.7,338.22 336.2,336.58 336.7,335.07 337.2,333.62 337.7,332.09 338.2,330.47 338.7,328.78 339.2,327.06 339.7,325.32 340.2,323.58 340.7,321.88 341.2,320.23 341.7,318.62 342.2,317.09 342.7,315.64 343.2,314.19 343.7,312.59 344.2,310.73 344.7,308.67 345.2,306.59 345.7,304.66 346.2,302.94 346.7,301.31 347.2,299.64 347.7,297.9 348.2,296.08 348.7,294.12 349.2,291.98 349.7,289.76 350.2,287.64 350.7,285.67 351.2,283.78 351.7,281.94 352.2,280.11 352.7,278.23 353.2,276.29 353.7,274.34 354.2,272.41 354.7,270.47 355.2,268.55 355.7,266.62 356.2,264.65 356.7,262.61 357.2,260.53 357.7,258.47 358.2,256.42 358.7,254.39 359.2,252.39 359.7,250.35 360.2,248.17 360.7,245.81 361.2,243.37 361.7,241.07 362.2,238.99 362.7,237.1 363.2,235.26 363.7,233.35 364.2,231.37 364.7,229.36 365.2,227.4 365.7,225.52 366.2,223.66 366.7,221.68 367.2,219.54 367.7,217.31 368.2,215.15 368.7,213.11 369.2,211.14 369.7,209.19 370.2,207.19 370.7,205.2 371.2,203.27 371.7,201.38 372.2,199.42 372.7,197.38 373.2,195.39 373.7,193.53 374.2,191.7 374.7,189.76 375.2,187.66 375.7,185.5 376.2,183.45 376.7,181.56 377.2,179.81 377.7,178.1 378.2,176.3 378.7,174.36 379.2,172.34 379.7,170.32 380.2,168.38 380.7,166.61 381.2,165.08 381.7,163.68 382.2,162.23 382.7,160.6 383.2,158.81 383.7,156.94 384.2,155.09 384.7,153.34 385.2,151.74 385.7,150.2 386.2,148.6 386.7,146.99 387.2,145.46 387.7,144 388.2,142.49 388.7,140.89 389.2,139.29 389.7,137.83 390.2,136.53 390.7,135.29 391.2,134.01 391.7,132.7 392.2,131.42 392.7,130.19 393.2,129.05 393.7,127.97 394.2,126.91 394.7,125.82 395.2,124.68 395.7,123.54 396.2,122.52 396.7,121.64 397.2,120.84 397.7,119.97 398.2,118.95 398.7,117.82 399.2,116.7 399.7,115.71 400.2,114.87 400.7,114.15 401.2,113.53 401.7,112.91 402.2,112.25 402.7,111.52 403.2,110.75 403.7,110.03 404.2,109.45 404.7,109.04 405.2,108.79 405.7,108.57 406.2,108.24 406.7,107.86 407.2,107.51 407.7,107.23 408.2,106.99 408.7,106.73 409.2,106.49 409.7,106.29 410.2,106.18 410.7,106.12 411.2,106.07 411.7,106.08 412.2,106.13 412.7,106.2 413.2,106.3 413.7,106.45 414.2,106.64 414.7,106.87 415.2,107.23 415.7,107.69 416.2,108.15 416.7,108.55 417.2,108.89 417.7,109.14 418.2,109.3 418.7,109.46 419.2,109.72 419.7,110.18 420.2,110.84 420.7,111.67 421.2,112.55 421.7,113.34 422.2,113.98 422.7,114.55 423.2,115.19 423.7,115.97 424.2,116.84 424.7,117.65 425.2,118.35 425.7,118.98 426.2,119.67 426.7,120.5 427.2,121.5 427.7,122.62 428.2,123.78 428.7,124.94 429.2,126.1 429.7,127.2 430.2,128.2 430.7,129.12 431.2,130.1 431.7,131.29 432.2,132.63 432.7,133.98 433.2,135.23 433.7,136.44 434.2,137.73 434.7,139.1 435.2,140.43 435.7,141.68 436.2,142.91 436.7,144.22 437.2,145.63 437.7,147.1 438.2,148.62 438.7,150.18 439.2,151.74 439.7,153.2 440.2,154.57 440.7,155.96 441.2,157.46 441.7,159.05 442.2,160.63 442.7,162.2 443.2,163.8 443.7,165.47 444.2,167.08 444.7,168.57 445.2,170.06 445.7,171.68 446.2,173.42 446.7,175.16 447.2,176.91 447.7,178.73 448.2,180.5 448.7,182.13 449.2,183.71 449.7,185.4 450.2,187.15 450.7,188.83 451.2,190.42 451.7,192.05 452.2,193.78 452.7,195.59 453.2,197.46 453.7,199.42 454.2,201.42 454.7,203.34 455.2,205.11 455.7,206.75 456.2,208.3 456.7,209.86 457.2,211.51 457.7,213.34 458.2,215.36 458.7,217.54 459.2,219.7 459.7,221.67 460.2,223.39 460.7,224.96 461.2,226.51 461.7,228.15 462.2,229.94 462.7,231.89 463.2,233.96 463.7,236.04 464.2,237.96 464.7,239.61 465.2,241.11 465.7,242.64 466.2,244.33 466.7,246.17 467.2,248.11 467.7,250.07 468.2,252.04 468.7,253.98 469.2,255.85 469.7,257.6 470.2,259.33 470.7,261.17 471.2,263.09 471.7,264.96 472.2,266.67 472.7,268.24 473.2,269.78 473.7,271.44 474.2,273.24 474.7,275.06 475.2,276.87 475.7,278.7 476.2,280.48 476.7,282.15 477.2,283.76 477.7,285.51 478.2,287.49 478.7,289.56 479.2,291.49 479.7,293.14 480.2,294.6 480.7,296.07 481.2,297.62 481.7,299.23 482.2,300.9 482.7,302.64 483.2,304.41 483.7,306.18 484.2,307.87 484.7,309.41 485.2,310.84 485.7,312.32 486.2,313.98 486.7,315.8 487.2,317.68 487.7,319.52 488.2,321.24 488.7,322.77 489.2,324.17 489.7,325.54 490.2,326.96 490.7,328.36 491.2,329.68 491.7,331.04 492.2,332.59 492.7,334.28 493.2,335.91 493.7,337.41 494.2,338.84 494.7,340.27 495.2,341.69 495.7,343.07 496.2,344.47 496.7,345.94 497.2,347.49 497.7,349.05 498.2,350.5 498.7,351.77 499.2,352.89 499.7,354.04 500.2,355.33 500.7,356.72 501.2,358.12 501.7,359.48 502.2,360.77 502.7,361.96 503.2,363.07 503.7,364.19 504.2,365.38 504.7,366.67 505.2,367.98 505.7,369.19 506.2,370.28 506.7,371.29 507.2,372.3 507.7,373.31 508.2,374.33 508.7,375.39 509.2,376.5 509.7,377.62 510.2,378.73 510.7,379.82 511.2,380.86 511.7,381.88 512.2,382.99 512.7,384.16 513.2,385.26 513.7,386.21 514.2,387.11 514.7,388.14 515.2,389.32 515.7,390.56 516.2,391.75 516.7,392.83 517.2,393.82 517.7,394.81 518.2,395.8 518.7,396.74 519.2,397.65 519.7,398.63 520.2,399.72 520.7,400.81 521.2,401.81 521.7,402.67 522.2,403.45 522.7,404.19 523.2,404.88 523.7,405.53 524.2,406.18 524.7,406.84 525.2,407.47 525.7,408.06 526.2,408.66 526.7,409.3 527.2,409.97 527.7,410.63 528.2,411.27 528.7,411.95 529.2,412.67 529.7,413.38 530.2,414 530.7,414.51 531.2,415.02 531.7,415.6 532.2,416.22 532.7,416.81 533.2,417.34 533.7,417.79 534.2,418.19 534.7,418.62 535.2,419.19 535.7,419.88 536.2,420.59 536.7,421.27 537.2,421.83 537.7,422.19 538.2,422.4 538.7,422.63 539.2,422.98 539.7,423.44 540.2,423.93 540.7,424.47 541.2,425.08 541.7,425.67 542.2,426.15 542.7,426.54 543.2,426.93 543.7,427.37 544.2,427.87 544.7,428.37 545.2,428.81 545.7,429.18 546.2,429.55 546.7,429.91 547.2,430.27 547.7,430.65 548.2,431.02 548.7,431.38 549.2,431.75 549.7,432.2 550.2,432.73 550.7,433.26 551.2,433.73 551.7,434.19 552.2,434.66 552.7,435.11 553.2,435.42 553.7,435.64 554.2,435.92 554.7,436.36 555.2,436.84 555.7,437.22 556.2,437.54 556.7,437.9 557.2,438.36 557.7,438.85 558.2,439.31 558.7,439.73 559.2,440.13 559.7,440.53 560.2,440.87 560.7,441.13 561.2,441.35 561.7,441.6 562.2,441.89 562.7,442.17 563.2,442.35 563.7,442.44 564.2,442.63 564.7,443.07 565.2,443.65 565.7,444.15 566.2,444.48 566.7,444.67 567.2,444.84 567.7,445.05 568.2,445.38 568.7,445.84 569.2,446.39 569.7,446.85 570.2,447.05 570.7,447.01 571.2,446.91 571.7,446.91 572.2,447.11 572.7,447.52 573.2,448.08 573.7,448.59 574.2,448.94 574.7,449.16 575.2,449.37 575.7,449.66 576.2,450.02 576.7,450.4 577.2,450.7 577.7,450.91 578.2,451.05 578.7,451.2 579.2,451.37 579.7,451.58 580.2,451.79 580.7,452.02 581.2,452.22 581.7,452.35 582.2,452.42 582.7,452.5 583.2,452.62 583.7,452.79 584.2,453.04 584.7,453.33 585.2,453.53 585.7,453.61 586.2,453.72 586.7,453.91 587.2,454.13 587.7,454.34 588.2,454.53 588.7,454.67 589.2,454.73 589.7,454.75 590.2,454.87 590.7,455.14 591.2,455.55 591.7,455.98 592.2,456.36 592.7,456.58 593.2,456.63 593.7,456.58 594.2,456.48 594.7,456.4 595.2,456.39 595.7,456.48 596.2,456.64 596.7,456.8 597.2,456.94 597.7,457.14 598.2,457.51 598.7,457.93 599.2,458.2 599.7,458.22 600.2,458.07 600.7,457.93 601.2,457.92 601.7,457.99 602.2,458.09 602.7,458.26 603.2,458.58 603.7,458.93 604.2,459.17 604.7,459.25 605.2,459.25 605.7,459.26 606.2,459.35 606.7,459.55 607.2,459.81 607.7,460.06 608.2,460.2 608.7,460.24 609.2,460.25 609.7,460.33 610.2,460.5 610.7,460.69 611.2,460.77 611.7,460.67 612.2,460.46 612.7,460.34 613.2,460.4 613.7,460.6 614.2,460.84 614.7,460.99 615.2,461 615.7,460.94 616.2,460.91 616.7,460.95 617.2,461.02 617.7,461.09 618.2,461.17 618.7,461.23 619.2,461.26 619.7,461.28 620.2,461.38 620.7,461.57 621.2,461.75 621.7,461.83 622.2,461.77 622.7,461.68 623.2,461.7 623.7,461.88 624.2,462.17 624.7,462.46 625.2,462.58 625.7,462.46 626.2,462.21 626.7,462.02 627.2,462.02 627.7,462.12 628.2,462.26 628.7,462.43 629.2,462.67 629.7,462.92 630.2,463.12 630.7,463.26 631.2,463.3 631.7,463.2 632.2,463.01 632.7,462.88 633.2,462.92 633.7,463.11 634.2,463.32 634.7,463.46 635.2,463.6 635.7,463.78 636.2,463.91 636.7,463.9 637.2,463.79 637.7,463.72 638.2,463.76 638.7,463.85 639.2,463.91 639.7,463.89 640.2,463.78 640.7,463.63 641.2,463.53 641.7,463.63 642.2,463.95 642.7,464.34 643.2,464.57 643.7,464.53 644.2,464.32 644.7,464.23 645.2,464.36 645.7,464.56 646.2,464.58 646.7,464.46 647.2,464.36 647.7,464.33 648.2,464.27 648.7,464.13 649.2,464.05 649.7,464.13 650.2,464.28 650.7,464.37 651.2,464.41 651.7,464.5 652.2,464.63 652.7,464.71 653.2,464.75 653.7,464.85 654.2,465 654.7,465.1 655.2,465.08 655.7,464.99 656.2,464.93 656.7,464.94 657.2,465.01 657.7,465.09 658.2,465.15 658.7,465.17 659.2,465.16 659.7,465.14 660.2,465.13 660.7,465.13 661.2,465.15 661.7,465.13 662.2,465.01 662.7,464.8 663.2,464.66 663.7,464.76 664.2,465.04 664.7,465.32 665.2,465.46 665.7,465.45 666.2,465.36 666.7,465.25 667.2,465.18 667.7,465.2 668.2,465.35 668.7,465.56 669.2,465.71 669.7,465.72 670.2,465.57 670.7,465.41 671.2,465.4 671.7,465.53 672.2,465.68 672.7,465.74 673.2,465.72 673.7,465.69 674.2,465.68 674.7,465.71 675.2,465.77 675.7,465.9 676.2,466.06 676.7,466.19 677.2,466.26 677.7,466.3 678.2,466.3 678.7,466.25 679.2,466.2 679.7,466.19 680.2,466.22 680.7,466.31 681.2,466.44 681.7,466.56 682.2,466.57 682.7,466.48 683.2,466.39 683.7,466.35 684.2,466.33 684.7,466.29 685.2,466.26 685.7,466.27 686.2,466.24 686.7,466.11 687.2,465.98 687.7,465.95 688.2,466.07 688.7,466.27 689.2,466.42 689.7,466.42 690.2,466.25 690.7,466.08 691.2,466.01 691.7,466.04 692.2,466.14 692.7,466.3 693.2,466.48 693.7,466.62 694.2,466.63 694.7,466.55 695.2,466.47 695.7,466.52 696.2,466.73 696.7,466.94 697.2,467.02 697.7,466.98 698.2,466.88 698.7,466.76 699.2,466.61 699.7,466.44 700.2,466.37 700.7,466.55 701.2,466.94 701.7,467.27 702.2,467.31 702.7,467.07 703.2,466.81 703.7,466.75 704.2,466.9 704.7,467.01 705.2,467.01 705.7,466.98 706.2,466.98 706.7,467 707.2,467.04 707.7,467.1 708.2,467.11 708.7,467.07 709.2,467.05 709.7,467.12 710.2,467.26 710.7,467.4 711.2,467.41 711.7,467.28 712.2,467.15 712.7,467.17 713.2,467.36 713.7,467.56 714.2,467.66 714.7,467.7 715.2,467.79 715.7,467.82 716.2,467.68 716.7,467.47 717.2,467.41 717.7,467.56 718.2,467.77 718.7,467.96 719.2,468.16 719.7,468.31 720.2,468.33 720.7,468.2 721.2,468.01 721.7,467.91 722.2,467.93 722.7,468.03 723.2,468.1 723.7,468.01 724.2,467.77 724.7,467.5 725.2,467.4 725.7,467.53 726.2,467.9 726.7,468.41 727.2,468.79" stroke="#1f1f8a"/>
<path d="M113.2,424.14 113.7,424.54 114.2,424.95 114.7,425.22 115.2,425.39 115.7,425.58 116.2,425.82 116.7,426.09 117.2,426.33 117.7,426.54 118.2,426.64 118.7,426.64 119.2,426.59 119.7,426.54 120.2,426.47 120.7,426.41 121.2,426.46 121.7,426.63 122.2,426.85 122.7,427.05 123.2,427.23 123.7,427.46 124.2,427.76 124.7,428 125.2,428.1 125.7,428.1 126.2,428.13 126.7,428.26 127.2,428.44 127.7,428.6 128.2,428.73 128.7,428.87 129.2,429.02 129.7,429.17 130.2,429.31 130.7,429.47 131.2,429.7 131.7,429.95 132.2,430.12 132.7,430.13 133.2,430.03 133.7,429.92 134.2,429.89 134.7,429.92 135.2,429.96 135.7,429.97 136.2,430.03 136.7,430.18 137.2,430.37 137.7,430.53 138.2,430.66 138.7,430.79 139.2,430.96 139.7,431.12 140.2,431.19 140.7,431.16 141.2,431.07 141.7,431.04 142.2,431.1 142.7,431.24 143.2,431.39 143.7,431.52 144.2,431.69 144.7,431.89 145.2,432.06 145.7,432.19 146.2,432.28 146.7,432.34 147.2,432.34 147.7,432.28 148.2,432.26 148.7,432.33 149.2,432.43 149.7,432.45 150.2,432.37 150.7,432.3 151.2,432.25 151.7,432.18 152.2,432.11 152.7,432.18 153.2,432.44 153.7,432.79 154.2,433.07 154.7,433.18 155.2,433.14 155.7,433.02 156.2,432.93 156.7,432.95 157.2,433.04 157.7,433.09 158.2,433.08 158.7,433.09 159.2,433.14 159.7,433.24 160.2,433.36 160.7,433.44 161.2,433.48 161.7,433.46 162.2,433.32 162.7,433.13 163.2,433.11 163.7,433.39 164.2,433.83 164.7,434.16 165.2,434.25 165.7,434.22 166.2,434.17 166.7,434.12 167.2,434.05 167.7,434 168.2,434.01 168.7,434.04 169.2,434.06 169.7,434.13 170.2,434.27 170.7,434.43 171.2,434.54 171.7,434.59 172.2,434.56 172.7,434.48 173.2,434.4 173.7,434.38 174.2,434.43 174.7,434.53 175.2,434.58 175.7,434.48 176.2,434.29 176.7,434.2 177.2,434.35 177.7,434.64 178.2,434.93 178.7,435.12 179.2,435.15 179.7,435.05 180.2,434.97 180.7,435.04 181.2,435.21 181.7,435.4 182.2,435.57 182.7,435.71 183.2,435.77 183.7,435.71 184.2,435.61 184.7,435.57 185.2,435.64 185.7,435.78 186.2,435.88 186.7,435.82 187.2,435.66 187.7,435.53 188.2,435.53 188.7,435.6 189.2,435.67 189.7,435.75 190.2,435.9 190.7,436.08 191.2,436.23 191.7,436.28 192.2,436.22 192.7,436.19 193.2,436.34 193.7,436.66 194.2,436.91 194.7,436.96 195.2,436.89 195.7,436.86 196.2,436.88 196.7,436.85 197.2,436.78 197.7,436.73 198.2,436.74 198.7,436.74 199.2,436.68 199.7,436.52 200.2,436.36 200.7,436.25 201.2,436.23 201.7,436.32 202.2,436.55 202.7,436.87 203.2,437.13 203.7,437.2 204.2,437.13 204.7,437.09 205.2,437.15 205.7,437.24 206.2,437.32 206.7,437.42 207.2,437.61 207.7,437.85 208.2,438.04 208.7,438.14 209.2,438.19 209.7,438.21 210.2,438.18 210.7,438.12 211.2,438.07 211.7,438.09 212.2,438.26 212.7,438.54 213.2,438.79 213.7,438.89 214.2,438.86 214.7,438.81 215.2,438.8 215.7,438.82 216.2,438.85 216.7,438.88 217.2,438.88 217.7,438.9 218.2,438.94 218.7,439 219.2,439.12 219.7,439.34 220.2,439.6 220.7,439.9 221.2,440.17 221.7,440.32 222.2,440.33 222.7,440.27 223.2,440.26 223.7,440.33 224.2,440.47 224.7,440.6 225.2,440.74 225.7,440.92 226.2,441.01 226.7,440.93 227.2,440.79 227.7,440.74 228.2,440.81 228.7,440.88 229.2,440.87 229.7,440.81 230.2,440.77 230.7,440.76 231.2,440.74 231.7,440.73 232.2,440.81 232.7,441.01 233.2,441.23 233.7,441.39 234.2,441.49 234.7,441.54 235.2,441.55 235.7,441.55 236.2,441.57 236.7,441.55 237.2,441.42 237.7,441.25 238.2,441.15 238.7,441.19 239.2,441.38 239.7,441.65 240.2,441.87 240.7,441.98 241.2,442.02 241.7,442.02 242.2,442.01 242.7,442.04 243.2,442.07 243.7,442.05 244.2,441.97 244.7,441.9 245.2,441.84 245.7,441.79 246.2,441.72 246.7,441.62 247.2,441.57 247.7,441.66 248.2,441.85 248.7,442 249.2,441.99 249.7,441.81 250.2,441.57 250.7,441.38 251.2,441.32 251.7,441.38 252.2,441.42 252.7,441.32 253.2,441.09 253.7,440.92 254.2,440.91 254.7,440.91 255.2,440.81 255.7,440.65 256.2,440.55 256.7,440.49 257.2,440.44 257.7,440.39 258.2,440.33 258.7,440.3 259.2,440.31 259.7,440.24 260.2,439.96 260.7,439.49 261.2,439.04 261.7,438.77 262.2,438.63 262.7,438.56 263.2,438.54 263.7,438.57 264.2,438.55 264.7,438.4 265.2,438.19 265.7,438.06 266.2,438.05 266.7,438 267.2,437.78 267.7,437.43 268.2,437.07 268.7,436.75 269.2,436.47 269.7,436.22 270.2,435.98 270.7,435.73 271.2,435.48 271.7,435.27 272.2,435.03 272.7,434.77 273.2,434.53 273.7,434.33 274.2,434.09 274.7,433.77 275.2,433.4 275.7,432.98 276.2,432.58 276.7,432.23 277.2,431.93 277.7,431.59 278.2,431.16 278.7,430.73 279.2,430.39 279.7,430.11 280.2,429.82 280.7,429.49 281.2,429.16 281.7,428.82 282.2,428.41 282.7,427.9 283.2,427.39 283.7,426.92 284.2,426.45 284.7,425.95 285.2,425.47 285.7,425.07 286.2,424.76 286.7,424.37 287.2,423.78 287.7,423.07 288.2,422.4 288.7,421.81 289.2,421.22 289.7,420.54 290.2,419.82 290.7,419.23 291.2,418.83 291.7,418.48 292.2,418.05 292.7,417.51 293.2,416.92 293.7,416.34 294.2,415.79 294.7,415.2 295.2,414.5 295.7,413.71 296.2,412.96 296.7,412.37 297.2,411.89 297.7,411.36 298.2,410.71 298.7,410.01 299.2,409.35 299.7,408.7 300.2,407.97 300.7,407.09 301.2,406.1 301.7,405.06 302.2,404.07 302.7,403.18 303.2,402.44 303.7,401.75 304.2,401 304.7,400.1 305.2,399.17 305.7,398.32 306.2,397.55 306.7,396.77 307.2,395.87 307.7,394.89 308.2,393.88 308.7,392.82 309.2,391.69 309.7,390.58 310.2,389.6 310.7,388.75 311.2,387.97 311.7,387.13 312.2,386.14 312.7,385 313.2,383.82 313.7,382.65 314.2,381.46 314.7,380.24 315.2,379.04 315.7,377.95 316.2,376.97 316.7,376.03 317.2,375 317.7,373.82 318.2,372.58 318.7,371.31 319.2,369.98 319.7,368.59 320.2,367.17 320.7,365.79 321.2,364.44 321.7,363.08 322.2,361.71 322.7,360.29 323.2,358.82 323.7,357.32 324.2,355.9 324.7,354.63 325.2,353.43 325.7,352.1 326.2,350.57 326.7,348.85 327.2,347.07 327.7,345.37 328.2,343.84 328.7,342.43 329.2,341.05 329.7,339.64 330.2,338.2 330.7,336.69 331.2,335.11 331.7,333.5 332.2,331.96 332.7,330.47 333.2,328.94 333.7,327.19 334.2,325.18 334.7,322.98 335.2,320.83 335.7,318.9 336.2,317.19 336.7,315.51 337.2,313.75 337.7,311.92 338.2,310.04 338.7,308.21 339.2,306.44 339.7,304.61 340.2,302.65 340.7,300.63 341.2,298.66 341.7,296.79 342.2,294.96 342.7,293.08 343.2,291.09 343.7,288.96 344.2,286.74 344.7,284.49 345.2,282.25 345.7,280.01 346.2,277.71 346.7,275.39 347.2,273.13 347.7,271.01 348.2,268.98 348.7,266.94 349.2,264.72 349.7,262.35 350.2,260.04 350.7,257.9 351.2,255.89 351.7,253.92 352.2,251.92 352.7,249.83 353.2,247.58 353.7,245.16 354.2,242.63 354.7,240.14 355.2,237.71 355.7,235.31 356.2,232.89 356.7,230.48 357.2,228.06 357.7,225.66 358.2,223.35 358.7,221.15 359.2,219.03 359.7,216.87 360.2,214.59 360.7,212.14 361.2,209.65 361.7,207.26 362.2,204.97 362.7,202.66 363.2,200.25 363.7,197.83 364.2,195.53 364.7,193.27 365.2,190.94 365.7,188.53 366.2,186.09 366.7,183.7 367.2,181.43 367.7,179.23 368.2,177.02 368.7,174.79 369.2,172.63 369.7,170.56 370.2,168.46 370.7,166.18 371.2,163.75 371.7,161.31 372.2,158.99 372.7,156.84 373.2,154.75 373.7,152.58 374.2,150.3 374.7,148.01 375.2,145.8 375.7,143.63 376.2,141.47 376.7,139.28 377.2,137.1 377.7,134.99 378.2,132.94 378.7,130.92 379.2,128.87 379.7,126.85 380.2,124.9 380.7,122.99 381.2,121.09 381.7,119.23 382.2,117.44 382.7,115.72 383.2,114.03 383.7,112.26 384.2,110.39 384.7,108.5 385.2,106.67 385.7,104.92 386.2,103.21 386.7,101.56 387.2,100.02 387.7,98.61 388.2,97.19 388.7,95.68 389.2,94.09 389.7,92.5 390.2,90.95 390.7,89.42 391.2,87.93 391.7,86.51 392.2,85.1 392.7,83.63 393.2,82.12 393.7,80.68 394.2,79.38 394.7,78.22 395.2,77.15 395.7,76.12 396.2,75.07 396.7,73.98 397.2,72.85 397.7,71.71 398.2,70.61 398.7,69.62 399.2,68.78 399.7,68.01 400.2,67.19 400.7,66.3 401.2,65.41 401.7,64.57 402.2,63.76 402.7,62.97 403.2,62.23 403.7,61.57 404.2,60.94 404.7,60.32 405.2,59.69 405.7,59.07 406.2,58.45 406.7,57.85 407.2,57.35 407.7,56.98 408.2,56.7 408.7,56.4 409.2,56.06 409.7,55.75 410.2,55.56 410.7,55.51 411.2,55.57 411.7,55.64 412.2,55.67 412.7,55.66 413.2,55.71 413.7,55.87 414.2,56.1 414.7,56.33 415.2,56.5 415.7,56.54 416.2,56.54 416.7,56.67 417.2,57.06 417.7,57.6 418.2,58.1 418.7,58.46 419.2,58.79 419.7,59.25 420.2,59.91 420.7,60.68 421.2,61.4 421.7,62.05 422.2,62.68 422.7,63.35 423.2,64.03 423.7,64.71 424.2,65.41 424.7,66.14 425.2,66.87 425.7,67.67 426.2,68.59 426.7,69.64 427.2,70.77 427.7,71.99 428.2,73.27 428.7,74.6 429.2,75.94 429.7,77.24 430.2,78.43 430.7,79.52 431.2,80.61 431.7,81.72 432.2,82.84 432.7,84 433.2,85.25 433.7,86.55 434.2,87.85 434.7,89.23 435.2,90.79 435.7,92.51 436.2,94.26 436.7,95.89 437.2,97.33 437.7,98.72 438.2,100.23 438.7,101.85 439.2,103.5 439.7,105.22 440.2,107.06 440.7,108.95 441.2,110.77 441.7,112.57 442.2,114.51 442.7,116.58 443.2,118.58 443.7,120.41 444.2,122.11 444.7,123.78 445.2,125.51 445.7,127.39 446.2,129.41 446.7,131.49 447.2,133.6 447.7,135.78 448.2,137.94 448.7,139.94 449.2,141.72 449.7,143.46 450.2,145.35 450.7,147.41 451.2,149.49 451.7,151.48 452.2,153.37 452.7,155.17 453.2,156.95 453.7,158.75 454.2,160.58 454.7,162.35 455.2,164.07 455.7,165.81 456.2,167.66 456.7,169.56 457.2,171.39 457.7,173.07 458.2,174.6 458.7,176.09 459.2,177.58 459.7,179.12 460.2,180.81 460.7,182.66 461.2,184.57 461.7,186.41 462.2,188.16 462.7,189.81 463.2,191.34 463.7,192.85 464.2,194.54 464.7,196.51 465.2,198.69 465.7,200.91 466.2,203.06 466.7,205.11 467.2,207.1 467.7,209.03 468.2,210.93 468.7,212.81 469.2,214.73 469.7,216.74 470.2,218.91 470.7,221.26 471.2,223.76 471.7,226.26 472.2,228.71 472.7,231.14 473.2,233.59 473.7,236.02 474.2,238.4 474.7,240.75 475.2,243.12 475.7,245.51 476.2,247.86 476.7,250.08 477.2,252.09 477.7,253.98 478.2,255.91 478.7,257.98 479.2,260.12 479.7,262.24 480.2,264.34 480.7,266.39 481.2,268.37 481.7,270.27 482.2,272.1 482.7,273.95 483.2,275.9 483.7,277.93 484.2,279.85 484.7,281.57 485.2,283.19 485.7,284.96 486.2,286.87 486.7,288.74 487.2,290.37 487.7,291.76 488.2,293.02 488.7,294.35 489.2,295.86 489.7,297.46 490.2,299.02 490.7,300.4 491.2,301.56 491.7,302.58 492.2,303.7 492.7,305.05 493.2,306.6 493.7,308.24 494.2,309.91 494.7,311.52 495.2,313.03 495.7,314.42 496.2,315.78 496.7,317.15 497.2,318.54 497.7,319.95 498.2,321.37 498.7,322.85 499.2,324.45 499.7,326.11 500.2,327.7 500.7,329.16 501.2,330.63 501.7,332.24 502.2,333.97 502.7,335.69 503.2,337.34 503.7,338.9 504.2,340.38 504.7,341.8 505.2,343.19 505.7,344.59 506.2,346.02 506.7,347.44 507.2,348.8 507.7,350.1 508.2,351.37 508.7,352.67 509.2,354.08 509.7,355.61 510.2,357.13 510.7,358.54 511.2,359.89 511.7,361.27 512.2,362.64 512.7,363.93 513.2,365.14 513.7,366.35 514.2,367.63 514.7,368.9 515.2,370.09 515.7,371.25 516.2,372.48 516.7,373.76 517.2,375.04 517.7,376.27 518.2,377.45 518.7,378.57 519.2,379.64 519.7,380.63 520.2,381.58 520.7,382.55 521.2,383.62 521.7,384.77 522.2,385.88 522.7,386.93 523.2,387.98 523.7,389.08 524.2,390.13 524.7,391.04 525.2,391.89 525.7,392.82 526.2,393.85 526.7,394.86 527.2,395.72 527.7,396.47 528.2,397.23 528.7,398.07 529.2,398.99 529.7,399.91 530.2,400.77 530.7,401.53 531.2,402.24 531.7,402.96 532.2,403.7 532.7,404.44 533.2,405.13 533.7,405.77 534.2,406.46 534.7,407.29 535.2,408.24 535.7,409.1 536.2,409.74 536.7,410.26 537.2,410.77 537.7,411.37 538.2,412.12 538.7,413.03 539.2,413.93 539.7,414.65 540.2,415.16 540.7,415.66 541.2,416.3 541.7,417.01 542.2,417.63 542.7,418.13 543.2,418.55 543.7,418.95 544.2,419.37 544.7,419.82 545.2,420.26 545.7,420.69 546.2,421.22 546.7,421.84 547.2,422.45 547.7,422.99 548.2,423.48 548.7,423.97 549.2,424.52 549.7,425.14 550.2,425.7 550.7,426.16 551.2,426.6 551.7,427.07 552.2,427.48 552.7,427.79 553.2,428.04 553.7,428.35 554.2,428.79 554.7,429.36 555.2,429.96 555.7,430.52 556.2,431.03 556.7,431.47 557.2,431.81 557.7,432.03 558.2,432.25 558.7,432.61 559.2,433.13 559.7,433.61 560.2,433.87 560.7,433.98 561.2,434.18 561.7,434.62 562.2,435.15 562.7,435.6 563.2,435.94 563.7,436.29 564.2,436.72 564.7,437.11 565.2,437.36 565.7,437.52 566.2,437.71 566.7,437.96 567.2,438.21 567.7,438.47 568.2,438.76 568.7,439.07 569.2,439.41 569.7,439.77 570.2,440.16 570.7,440.6 571.2,441.13 571.7,441.68 572.2,442.14 572.7,442.45 573.2,442.62 573.7,442.68 574.2,442.69 574.7,442.74 575.2,442.9 575.7,443.26 576.2,443.77 576.7,444.27 577.2,444.58 577.7,444.77 578.2,444.98 578.7,445.27 579.2,445.57 579.7,445.78 580.2,445.87 580.7,445.93 581.2,446.11 581.7,446.44 582.2,446.81 582.7,447.12 583.2,447.38 583.7,447.68 584.2,448.07 584.7,448.49 585.2,448.83 585.7,448.98 586.2,448.92 586.7,448.81 587.2,448.84 587.7,449.08 588.2,449.42 588.7,449.76 589.2,450.07 589.7,450.38 590.2,450.66 590.7,450.88 591.2,451.01 591.7,451.07 592.2,451.11 592.7,451.15 593.2,451.21 593.7,451.31 594.2,451.52 594.7,451.89 595.2,452.26 595.7,452.46 596.2,452.53 596.7,452.59 597.2,452.71 597.7,452.86 598.2,453.07 598.7,453.37 599.2,453.68 599.7,453.88 600.2,453.87 600.7,453.71 601.2,453.58 601.7,453.58 602.2,453.74 602.7,454.01 603.2,454.35 603.7,454.73 604.2,455.09 604.7,455.4 605.2,455.65 605.7,455.84 606.2,455.92 606.7,455.91 607.2,455.87 607.7,455.93 608.2,456.16 608.7,456.46 609.2,456.64 609.7,456.62 610.2,456.55 610.7,456.61 611.2,456.79 611.7,456.96 612.2,457.09 612.7,457.17 613.2,457.22 613.7,457.27 614.2,457.41 614.7,457.63 615.2,457.91 615.7,458.21 616.2,458.49 616.7,458.61 617.2,458.56 617.7,458.47 618.2,458.51 618.7,458.72 619.2,459.03 619.7,459.36 620.2,459.63 620.7,459.78 621.2,459.79 621.7,459.71 622.2,459.69 622.7,459.77 623.2,459.88 623.7,459.97 624.2,460.09 624.7,460.24 625.2,460.36 625.7,460.43 626.2,460.51 626.7,460.62 627.2,460.68 627.7,460.68 628.2,460.69 628.7,460.76 629.2,460.94 629.7,461.23 630.2,461.53 630.7,461.68 631.2,461.65 631.7,461.48 632.2,461.31 632.7,461.23 633.2,461.25 633.7,461.3 634.2,461.37 634.7,461.49 635.2,461.73 635.7,462.07 636.2,462.41 636.7,462.6 637.2,462.63 637.7,462.58 638.2,462.53 638.7,462.48 639.2,462.4 639.7,462.28 640.2,462.24 640.7,462.4 641.2,462.72 641.7,463 642.2,463.16 642.7,463.23 643.2,463.24 643.7,463.2 644.2,463.19 644.7,463.27 645.2,463.38 645.7,463.42 646.2,463.45 646.7,463.6 647.2,463.82 647.7,463.91 648.2,463.76 648.7,463.49 649.2,463.27 649.7,463.19 650.2,463.29 650.7,463.58 651.2,463.93 651.7,464.21 652.2,464.36 652.7,464.46 653.2,464.57 653.7,464.65 654.2,464.72 654.7,464.79 655.2,464.84 655.7,464.85 656.2,464.82 656.7,464.83 657.2,464.99 657.7,465.19 658.2,465.27 658.7,465.27 659.2,465.28 659.7,465.32 660.2,465.29 660.7,465.2 661.2,465.1 661.7,465.04 662.2,465.06 662.7,465.24 663.2,465.54 663.7,465.9 664.2,466.2 664.7,466.35 665.2,466.26 665.7,465.98 666.2,465.65 666.7,465.48 667.2,465.51 667.7,465.63 668.2,465.76 668.7,465.89 669.2,466.02 669.7,466.06 670.2,465.93 670.7,465.7 671.2,465.49 671.7,465.43 672.2,465.54 672.7,465.75 673.2,465.99 673.7,466.23 674.2,466.44 674.7,466.49 675.2,466.31 675.7,466.08 676.2,466.06 676.7,466.23 677.2,466.43 677.7,466.54 678.2,466.59 678.7,466.62 679.2,466.69 679.7,466.82 680.2,466.94 680.7,466.98 681.2,466.95 681.7,466.94 682.2,466.96 682.7,467.01 683.2,467.04 683.7,466.97 684.2,466.79 684.7,466.64 685.2,466.63 685.7,466.79 686.2,466.96 686.7,466.94 687.2,466.78 687.7,466.69 688.2,466.73 688.7,466.77 689.2,466.77 689.7,466.81 690.2,466.91 690.7,467.01 691.2,467.05 691.7,467.06 692.2,467.06 692.7,467.06 693.2,467.07 693.7,467.15 694.2,467.27 694.7,467.36 695.2,467.38 695.7,467.41 696.2,467.52 696.7,467.69 697.2,467.77 697.7,467.71 698.2,467.58 698.7,467.53 699.2,467.53 699.7,467.51 700.2,467.38 700.7,467.14 701.2,466.87 701.7,466.73 702.2,466.76 702.7,466.89 703.2,467.09 703.7,467.36 704.2,467.65 704.7,467.84 705.2,467.86 705.7,467.81 706.2,467.74 706.7,467.62 707.2,467.49 707.7,467.46 708.2,467.52 708.7,467.59 709.2,467.58 709.7,467.47 710.2,467.32 710.7,467.27 711.2,467.4 711.7,467.6 712.2,467.7 712.7,467.72 713.2,467.76 713.7,467.91 714.2,468.13 714.7,468.25 715.2,468.18 715.7,467.96 716.2,467.75 716.7,467.6 717.2,467.45 717.7,467.3 718.2,467.21 718.7,467.25 719.2,467.39 719.7,467.56 720.2,467.64 720.7,467.64 721.2,467.63 721.7,467.74 722.2,468.01 722.7,468.36 723.2,468.63 723.7,468.69 724.2,468.53 724.7,468.21 725.2,467.82 725.7,467.47 726.2,467.24 726.7,467.15 727.2,467.16" stroke="#8a2bff"/>
</g>
<g stroke="#2b2b2b" stroke-width="2" fill="none" stroke-linecap="butt">
<rect x="113.2" y="24.2" width="614.2" height="449.2"/>
<line x1="103.9" y1="473.4" x2="113.2" y2="473.4"/>
<line x1="108.2" y1="438.86" x2="113.2" y2="438.86"/>
<line x1="103.9" y1="404.32" x2="113.2" y2="404.32"/>
<line x1="108.2" y1="369.77" x2="113.2" y2="369.77"/>
<line x1="103.9" y1="335.23" x2="113.2" y2="335.23"/>
<line x1="108.2" y1="300.69" x2="113.2" y2="300.69"/>
<line x1="103.9" y1="266.15" x2="113.2" y2="266.15"/>
<line x1="108.2" y1="231.61" x2="113.2" y2="231.61"/>
<line x1="103.9" y1="197.07" x2="113.2" y2="197.07"/>
<line x1="108.2" y1="162.52" x2="113.2" y2="162.52"/>
<line x1="103.9" y1="127.98" x2="113.2" y2="127.98"/>
<line x1="108.2" y1="93.44" x2="113.2" y2="93.44"/>
<line x1="103.9" y1="58.9" x2="113.2" y2="58.9"/>
<line x1="108.2" y1="24.36" x2="113.2" y2="24.36"/>
<line x1="113.2" y1="473.4" x2="113.2" y2="482.4"/>
<line x1="138.79" y1="473.4" x2="138.79" y2="478"/>
<line x1="164.38" y1="473.4" x2="164.38" y2="482.4"/>
<line x1="189.97" y1="473.4" x2="189.97" y2="478"/>
<line x1="215.57" y1="473.4" x2="215.57" y2="482.4"/>
<line x1="241.16" y1="473.4" x2="241.16" y2="478"/>
<line x1="266.75" y1="473.4" x2="266.75" y2="482.4"/>
<line x1="292.34" y1="473.4" x2="292.34" y2="478"/>
<line x1="317.93" y1="473.4" x2="317.93" y2="482.4"/>
<line x1="343.52" y1="473.4" x2="343.52" y2="478"/>
<line x1="369.12" y1="473.4" x2="369.12" y2="482.4"/>
<line x1="394.71" y1="473.4" x2="394.71" y2="478"/>
<line x1="420.3" y1="473.4" x2="420.3" y2="482.4"/>
<line x1="445.89" y1="473.4" x2="445.89" y2="478"/>
<line x1="471.48" y1="473.4" x2="471.48" y2="482.4"/>
<line x1="497.07" y1="473.4" x2="497.07" y2="478"/>
<line x1="522.67" y1="473.4" x2="522.67" y2="482.4"/>
<line x1="548.26" y1="473.4" x2="548.26" y2="478"/>
<line x1="573.85" y1="473.4" x2="573.85" y2="482.4"/>
<line x1="599.44" y1="473.4" x2="599.44" y2="478"/>
<line x1="625.03" y1="473.4" x2="625.03" y2="482.4"/>
<line x1="650.62" y1="473.4" x2="650.62" y2="478"/>
<line x1="676.22" y1="473.4" x2="676.22" y2="482.4"/>
<line x1="701.81" y1="473.4" x2="701.81" y2="478"/>
<line x1="727.4" y1="473.4" x2="727.4" y2="482.4"/>
</g>
<g font-family='"Liberation Serif","Times New Roman",serif' font-weight="bold" fill="#000">
<text x="98.6" y="479.7" font-size="23.5" text-anchor="end">0</text>
<text x="98.6" y="410.62" font-size="23.5" text-anchor="end">500</text>
<text x="98.6" y="341.53" font-size="23.5" text-anchor="end">1000</text>
<text x="98.6" y="272.45" font-size="23.5" text-anchor="end">1500</text>
<text x="98.6" y="203.37" font-size="23.5" text-anchor="end">2000</text>
<text x="98.6" y="134.28" font-size="23.5" text-anchor="end">2500</text>
<text x="98.6" y="65.2" font-size="23.5" text-anchor="end">3000</text>
<text x="113.2" y="505.5" font-size="23.5" text-anchor="middle">480</text>
<text x="164.38" y="505.5" font-size="23.5" text-anchor="middle">490</text>
<text x="215.57" y="505.5" font-size="23.5" text-anchor="middle">500</text>
<text x="266.75" y="505.5" font-size="23.5" text-anchor="middle">510</text>
<text x="317.93" y="505.5" font-size="23.5" text-anchor="middle">520</text>
<text x="369.12" y="505.5" font-size="23.5" text-anchor="middle">530</text>
<text x="420.3" y="505.5" font-size="23.5" text-anchor="middle">540</text>
<text x="471.48" y="505.5" font-size="23.5" text-anchor="middle">550</text>
<text x="522.67" y="505.5" font-size="23.5" text-anchor="middle">560</text>
<text x="573.85" y="505.5" font-size="23.5" text-anchor="middle">570</text>
<text x="625.03" y="505.5" font-size="23.5" text-anchor="middle">580</text>
<text x="676.22" y="505.5" font-size="23.5" text-anchor="middle">590</text>
<text x="727.4" y="505.5" font-size="23.5" text-anchor="middle">600</text>
<text x="133" y="88" font-size="67" text-anchor="start">a</text>
<text x="441.3" y="77.1" font-size="21.5" text-anchor="start">Standardized pH of solution</text>
<line x1="529.3" y1="105.7" x2="583.8" y2="105.7" stroke="#222222" stroke-width="2"/>
<text x="588.2" y="113.4" font-size="23.5" text-anchor="start">1.23</text>
<line x1="529.3" y1="134.87" x2="583.8" y2="134.87" stroke="#ff3030" stroke-width="2"/>
<text x="588.2" y="142.57" font-size="23.5" text-anchor="start">2.14</text>
<line x1="529.3" y1="164.04" x2="583.8" y2="164.04" stroke="#2a2aff" stroke-width="2"/>
<text x="588.2" y="171.74" font-size="23.5" text-anchor="start">3.12</text>
<line x1="529.3" y1="193.21" x2="583.8" y2="193.21" stroke="#ff30ff" stroke-width="2"/>
<text x="588.2" y="200.91" font-size="23.5" text-anchor="start">4.11</text>
<line x1="529.3" y1="222.38" x2="583.8" y2="222.38" stroke="#229322" stroke-width="2"/>
<text x="588.2" y="230.08" font-size="23.5" text-anchor="start">5.09</text>
<line x1="529.3" y1="251.55" x2="583.8" y2="251.55" stroke="#26268f" stroke-width="2"/>
<text x="588.2" y="259.25" font-size="23.5" text-anchor="start">6.01</text>
<line x1="529.3" y1="280.72" x2="583.8" y2="280.72" stroke="#9033ff" stroke-width="2"/>
<text x="588.2" y="288.42" font-size="23.5" text-anchor="start">7.08</text>
<text x="0" y="0" font-size="27.5" text-anchor="middle" transform="translate(31.9,265.2) rotate(-90)">FL intensity (a.u.)</text>
<text x="420.8" y="549.2" font-size="31.5" text-anchor="middle">Wavelength (nm)</text>
</g>
<g stroke="#151515" stroke-width="1.7" fill="none">
<path d="M951.88,413.94L1020.92,374.66M1032.7,367.14L1108.7,312.96M1120.54,305.54L1196.56,263.96M1208.18,256.25L1284.42,195.75M1295.92,187.82L1365.98,146.18M1377.64,138.46L1462.06,76.44"/>
</g>
<g stroke="#151515" stroke-width="1.8" fill="none">
<path d="M945.8,415.6V419.2M940.5,415.6H951.1M940.5,419.2H951.1"/>
<path d="M1027,366.85V375.55M1021.7,366.85H1032.3M1021.7,375.55H1032.3"/>
<path d="M1114.4,301V316.8M1109.1,301H1119.7M1109.1,316.8H1119.7"/>
<path d="M1202.7,251.7V269.5M1197.4,251.7H1208M1197.4,269.5H1208"/>
<path d="M1289.9,181.45V201.35M1284.6,181.45H1295.2M1284.6,201.35H1295.2"/>
<path d="M1372,132.8V152.4M1366.7,132.8H1377.3M1366.7,152.4H1377.3"/>
<path d="M1467.7,55.5V89.1M1462.4,55.5H1473M1462.4,89.1H1473"/>
</g>
<g fill="#000">
<circle cx="945.8" cy="417.4" r="5"/>
<circle cx="1027" cy="371.2" r="5"/>
<circle cx="1114.4" cy="308.9" r="5"/>
<circle cx="1202.7" cy="260.6" r="5"/>
<circle cx="1289.9" cy="191.4" r="5"/>
<circle cx="1372" cy="142.6" r="5"/>
<circle cx="1467.7" cy="72.3" r="5"/>
</g>
<line x1="945.8" y1="418.9" x2="1467.7" y2="83" stroke="#ff1010" stroke-width="1.8"/>
<g stroke="#2b2b2b" stroke-width="2" fill="none" stroke-linecap="butt">
<rect x="880.7" y="23.0" width="624.3" height="451.2"/>
<line x1="875.4" y1="474.2" x2="880.7" y2="474.2"/>
<line x1="871.2" y1="439.49" x2="880.7" y2="439.49"/>
<line x1="875.4" y1="404.78" x2="880.7" y2="404.78"/>
<line x1="871.2" y1="370.08" x2="880.7" y2="370.08"/>
<line x1="875.4" y1="335.37" x2="880.7" y2="335.37"/>
<line x1="871.2" y1="300.66" x2="880.7" y2="300.66"/>
<line x1="875.4" y1="265.95" x2="880.7" y2="265.95"/>
<line x1="871.2" y1="231.25" x2="880.7" y2="231.25"/>
<line x1="875.4" y1="196.54" x2="880.7" y2="196.54"/>
<line x1="871.2" y1="161.83" x2="880.7" y2="161.83"/>
<line x1="875.4" y1="127.12" x2="880.7" y2="127.12"/>
<line x1="871.2" y1="92.42" x2="880.7" y2="92.42"/>
<line x1="875.4" y1="57.71" x2="880.7" y2="57.71"/>
<line x1="871.2" y1="23" x2="880.7" y2="23"/>
<line x1="880.7" y1="474.2" x2="880.7" y2="479.5"/>
<line x1="925.29" y1="474.2" x2="925.29" y2="483.9"/>
<line x1="969.89" y1="474.2" x2="969.89" y2="479.5"/>
<line x1="1014.48" y1="474.2" x2="1014.48" y2="483.9"/>
<line x1="1059.07" y1="474.2" x2="1059.07" y2="479.5"/>
<line x1="1103.66" y1="474.2" x2="1103.66" y2="483.9"/>
<line x1="1148.26" y1="474.2" x2="1148.26" y2="479.5"/>
<line x1="1192.85" y1="474.2" x2="1192.85" y2="483.9"/>
<line x1="1237.44" y1="474.2" x2="1237.44" y2="479.5"/>
<line x1="1282.04" y1="474.2" x2="1282.04" y2="483.9"/>
<line x1="1326.63" y1="474.2" x2="1326.63" y2="479.5"/>
<line x1="1371.22" y1="474.2" x2="1371.22" y2="483.9"/>
<line x1="1415.81" y1="474.2" x2="1415.81" y2="479.5"/>
<line x1="1460.41" y1="474.2" x2="1460.41" y2="483.9"/>
<line x1="1505" y1="474.2" x2="1505" y2="479.5"/>
</g>
<g font-family='"Liberation Serif","Times New Roman",serif' font-weight="bold" fill="#000">
<text x="865.1" y="447.49" font-size="27" text-anchor="end">500</text>
<text x="865.1" y="378.08" font-size="27" text-anchor="end">1000</text>
<text x="865.1" y="308.66" font-size="27" text-anchor="end">1500</text>
<text x="865.1" y="239.25" font-size="27" text-anchor="end">2000</text>
<text x="865.1" y="169.83" font-size="27" text-anchor="end">2500</text>
<text x="865.1" y="100.42" font-size="27" text-anchor="end">3000</text>
<text x="865.1" y="31" font-size="27" text-anchor="end">3500</text>
<text x="925.69" y="512.7" font-size="31" text-anchor="middle">1</text>
<text x="1014.88" y="512.7" font-size="31" text-anchor="middle">2</text>
<text x="1104.06" y="512.7" font-size="31" text-anchor="middle">3</text>
<text x="1193.25" y="512.7" font-size="31" text-anchor="middle">4</text>
<text x="1282.44" y="512.7" font-size="31" text-anchor="middle">5</text>
<text x="1371.62" y="512.7" font-size="31" text-anchor="middle">6</text>
<text x="1460.81" y="512.7" font-size="31" text-anchor="middle">7</text>
<text x="905.2" y="87.6" font-size="66" text-anchor="start">b</text>
<text x="972.3" y="113.7" font-size="31.5" text-anchor="start">I=414×pH+139</text>
<text x="996.4" y="156.4" font-size="31.5">R<tspan font-size="19" dy="-12.5">2</tspan><tspan dy="12.5">=0.99800</tspan></text>
<text x="921" y="457.1" font-size="27.5" text-anchor="start">2.4%</text>
<text x="1002.8" y="457.1" font-size="27.5" text-anchor="start">2.8%</text>
<text x="1087.6" y="456.1" font-size="27.5" text-anchor="start">3.8%</text>
<text x="1178.3" y="454.9" font-size="27.5" text-anchor="start">3.6%</text>
<text x="1261.8" y="455.9" font-size="27.5" text-anchor="start">3.1%</text>
<text x="1341.2" y="454.9" font-size="27.5" text-anchor="start">2.7%</text>
<text x="1422.7" y="453.9" font-size="27.5" text-anchor="start">3.9%</text>
<text x="0" y="0" font-size="31" text-anchor="middle" transform="translate(792.8,241.0) rotate(-90)">FL intensity (a.u.)</text>
<text x="1193.8" y="549.2" font-size="31.8" text-anchor="middle">Standardized pH of solution</text>
</g>
<polyline fill="none" stroke-width="1.7" stroke="#151515" points="569.73,849.76 705.45,783.18 853.5,710.56 1038.57,619.78"/>
<rect x="565.23" y="845.26" width="9" height="9" fill="#000"/>
<rect x="700.95" y="778.68" width="9" height="9" fill="#000"/>
<rect x="849" y="706.06" width="9" height="9" fill="#000"/>
<rect x="1034.07" y="615.28" width="9" height="9" fill="#000"/>
<polyline fill="none" stroke-width="1.7" stroke="#ff1a1a" points="569.73,957.48 705.45,864.28 853.5,745.66 1038.57,629.46"/>
<g stroke="#ff1a1a" stroke-width="1.7" fill="none">
<path d="M569.73,945.38V969.59M564.43,945.38H575.03M564.43,969.59H575.03"/>
<path d="M705.45,858.23V870.33M700.15,858.23H710.75M700.15,870.33H710.75"/>
<path d="M853.5,732.95V758.37M848.2,732.95H858.8M848.2,758.37H858.8"/>
<path d="M1038.57,619.78V639.15M1033.27,619.78H1043.87M1033.27,639.15H1043.87"/>
</g>
<circle cx="569.73" cy="957.48" r="5" fill="#ff0000"/>
<circle cx="705.45" cy="864.28" r="5" fill="#ff0000"/>
<circle cx="853.5" cy="745.66" r="5" fill="#ff0000"/>
<circle cx="1038.57" cy="629.46" r="5" fill="#ff0000"/>
<polyline fill="none" stroke-width="1.7" stroke="#1a1aff" points="569.73,1010.74 705.45,889.7 853.5,768.66 1038.57,647.62"/>
<path d="M569.73,1003.84L575.53,1013.94L563.93,1013.94Z" fill="#0000ff"/>
<path d="M705.45,882.8L711.25,892.9L699.65,892.9Z" fill="#0000ff"/>
<path d="M853.5,761.76L859.3,771.86L847.7,771.86Z" fill="#0000ff"/>
<path d="M1038.57,640.72L1044.37,650.82L1032.77,650.82Z" fill="#0000ff"/>
<g stroke="#2b2b2b" stroke-width="2" fill="none" stroke-linecap="butt">
<rect x="488.3" y="587.1" width="616.9" height="453.9"/>
<line x1="483" y1="1041" x2="488.3" y2="1041"/>
<line x1="478.3" y1="1010.74" x2="488.3" y2="1010.74"/>
<line x1="483" y1="980.48" x2="488.3" y2="980.48"/>
<line x1="478.3" y1="950.22" x2="488.3" y2="950.22"/>
<line x1="483" y1="919.96" x2="488.3" y2="919.96"/>
<line x1="478.3" y1="889.7" x2="488.3" y2="889.7"/>
<line x1="483" y1="859.44" x2="488.3" y2="859.44"/>
<line x1="478.3" y1="829.18" x2="488.3" y2="829.18"/>
<line x1="483" y1="798.92" x2="488.3" y2="798.92"/>
<line x1="478.3" y1="768.66" x2="488.3" y2="768.66"/>
<line x1="483" y1="738.4" x2="488.3" y2="738.4"/>
<line x1="478.3" y1="708.14" x2="488.3" y2="708.14"/>
<line x1="483" y1="677.88" x2="488.3" y2="677.88"/>
<line x1="478.3" y1="647.62" x2="488.3" y2="647.62"/>
<line x1="483" y1="617.36" x2="488.3" y2="617.36"/>
<line x1="478.3" y1="587.1" x2="488.3" y2="587.1"/>
<line x1="488.3" y1="1041.0" x2="488.3" y2="1050.5"/>
<line x1="519.14" y1="1041.0" x2="519.14" y2="1046.2"/>
<line x1="549.99" y1="1041.0" x2="549.99" y2="1050.5"/>
<line x1="580.84" y1="1041.0" x2="580.84" y2="1046.2"/>
<line x1="611.68" y1="1041.0" x2="611.68" y2="1050.5"/>
<line x1="642.53" y1="1041.0" x2="642.53" y2="1046.2"/>
<line x1="673.37" y1="1041.0" x2="673.37" y2="1050.5"/>
<line x1="704.22" y1="1041.0" x2="704.22" y2="1046.2"/>
<line x1="735.06" y1="1041.0" x2="735.06" y2="1050.5"/>
<line x1="765.9" y1="1041.0" x2="765.9" y2="1046.2"/>
<line x1="796.75" y1="1041.0" x2="796.75" y2="1050.5"/>
<line x1="827.6" y1="1041.0" x2="827.6" y2="1046.2"/>
<line x1="858.44" y1="1041.0" x2="858.44" y2="1050.5"/>
<line x1="889.29" y1="1041.0" x2="889.29" y2="1046.2"/>
<line x1="920.13" y1="1041.0" x2="920.13" y2="1050.5"/>
<line x1="950.98" y1="1041.0" x2="950.98" y2="1046.2"/>
<line x1="981.82" y1="1041.0" x2="981.82" y2="1050.5"/>
<line x1="1012.66" y1="1041.0" x2="1012.66" y2="1046.2"/>
<line x1="1043.51" y1="1041.0" x2="1043.51" y2="1050.5"/>
<line x1="1074.36" y1="1041.0" x2="1074.36" y2="1046.2"/>
<line x1="1105.2" y1="1041.0" x2="1105.2" y2="1050.5"/>
</g>
<line x1="498.2" y1="607.2" x2="554" y2="607.2" stroke="#111" stroke-width="1.8"/>
<rect x="521.7" y="602.7" width="9" height="9" fill="#000"/>
<line x1="498.2" y1="637.9" x2="554" y2="637.9" stroke="#ff1a1a" stroke-width="1.8"/>
<circle cx="526.2" cy="637.9" r="5" fill="#ff0000"/>
<line x1="498.2" y1="668.2" x2="554" y2="668.2" stroke="#1a1aff" stroke-width="1.8"/>
<path d="M526.2,660.8L532,670.9L520.4,670.9Z" fill="#0000ff"/>
<g font-family='"Liberation Serif","Times New Roman",serif' font-weight="bold" fill="#000">
<text x="473.3" y="1018.04" font-size="24.8" text-anchor="end">2.00</text>
<text x="473.3" y="957.52" font-size="24.8" text-anchor="end">2.50</text>
<text x="473.3" y="897" font-size="24.8" text-anchor="end">3.00</text>
<text x="473.3" y="836.48" font-size="24.8" text-anchor="end">3.50</text>
<text x="473.3" y="775.96" font-size="24.8" text-anchor="end">4.00</text>
<text x="473.3" y="715.44" font-size="24.8" text-anchor="end">4.50</text>
<text x="473.3" y="654.92" font-size="24.8" text-anchor="end">5.00</text>
<text x="473.3" y="594.4" font-size="24.8" text-anchor="end">5.50</text>
<text x="488.3" y="1075.4" font-size="24.8" text-anchor="middle">3.00</text>
<text x="549.99" y="1075.4" font-size="24.8" text-anchor="middle">3.25</text>
<text x="611.68" y="1075.4" font-size="24.8" text-anchor="middle">3.50</text>
<text x="673.37" y="1075.4" font-size="24.8" text-anchor="middle">3.75</text>
<text x="735.06" y="1075.4" font-size="24.8" text-anchor="middle">4.00</text>
<text x="796.75" y="1075.4" font-size="24.8" text-anchor="middle">4.25</text>
<text x="858.44" y="1075.4" font-size="24.8" text-anchor="middle">4.50</text>
<text x="920.13" y="1075.4" font-size="24.8" text-anchor="middle">4.75</text>
<text x="981.82" y="1075.4" font-size="24.8" text-anchor="middle">5.00</text>
<text x="1043.51" y="1075.4" font-size="24.8" text-anchor="middle">5.25</text>
<text x="1105.2" y="1075.4" font-size="24.8" text-anchor="middle">5.50</text>
<text x="0" y="0" font-size="24.15" transform="translate(560.0,616.4) scale(1,0.955)">Acidity Measured by pH Meter</text>
<text x="0" y="0" font-size="24.15" transform="translate(560.0,647.1) scale(1,0.955)">Acidity Measured by QD-pATP</text>
<text x="0" y="0" font-size="24.15" transform="translate(560.0,677) scale(1,0.955)">Theoretical Total Acidity</text>
<text x="510.2" y="734.6" font-size="69" text-anchor="start">c</text>
<text x="0" y="0" font-size="28.6" text-anchor="middle" transform="translate(408.2,813.6) rotate(-90)">Measured acidity of HAc solution</text>
<text x="0" y="0" font-size="27.8" text-anchor="middle" transform="translate(796.6,1112.8) scale(1,0.95)">pH of HAc solution</text>
</g>
</svg>
</body></html>
